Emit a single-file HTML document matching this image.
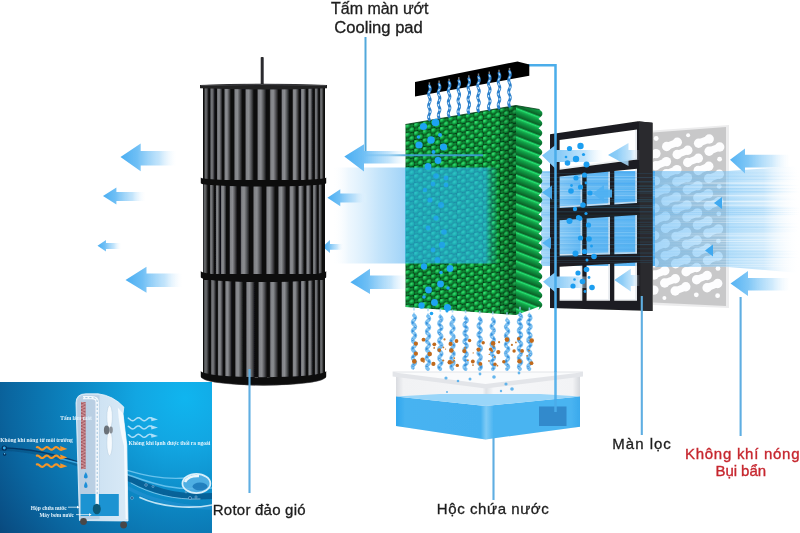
<!DOCTYPE html>
<html lang="vi"><head><meta charset="utf-8"><title>Cooling pad</title>
<style>
html,body{margin:0;padding:0;background:#fff;}
body{width:800px;height:533px;overflow:hidden;position:relative;font-family:"Liberation Sans",Arial,sans-serif;}
svg{position:absolute;left:0;top:0;display:block}
</style></head><body>
<svg width="800" height="533" viewBox="0 0 800 533">
<defs>

<linearGradient id="gArrowL" x1="0" x2="1" y1="0" y2="0">
  <stop offset="0" stop-color="#3fa9f0"/><stop offset="0.35" stop-color="#6fc0f5"/>
  <stop offset="0.75" stop-color="#bfe2fb" stop-opacity="0.8"/><stop offset="1" stop-color="#ffffff" stop-opacity="0"/>
</linearGradient>
<linearGradient id="gShaft" x1="0" x2="1"><stop offset="0" stop-color="#333"/><stop offset="0.5" stop-color="#bbb"/><stop offset="1" stop-color="#222"/></linearGradient>
<linearGradient id="gBlade" x1="0" x2="1">
  <stop offset="0" stop-color="#222224"/><stop offset="0.14" stop-color="#808286"/>
  <stop offset="0.42" stop-color="#8b8d91"/><stop offset="0.72" stop-color="#505154"/><stop offset="1" stop-color="#121213"/>
</linearGradient>
<linearGradient id="gBodyShade" x1="0" x2="1">
  <stop offset="0" stop-color="#000" stop-opacity="0.3"/><stop offset="0.15" stop-color="#000" stop-opacity="0"/>
  <stop offset="0.85" stop-color="#000" stop-opacity="0"/><stop offset="1" stop-color="#000" stop-opacity="0.3"/>
</linearGradient>
<filter id="blur1" filterUnits="userSpaceOnUse" x="0" y="0" width="800" height="533"><feGaussianBlur stdDeviation="0.6"/></filter>
<filter id="blur05" filterUnits="userSpaceOnUse" x="0" y="0" width="800" height="533"><feGaussianBlur stdDeviation="0.4"/></filter>
<filter id="blur2" x="-10%" y="-10%" width="120%" height="120%"><feGaussianBlur stdDeviation="1.2"/></filter>
<clipPath id="cpMesh"><path d="M653.0,132.0 L726.0,126.5 L726.0,306.0 L653.0,302.5 Z"/></clipPath>
<linearGradient id="gFlowR" gradientUnits="userSpaceOnUse" x1="655" x2="800" y1="0" y2="0">
  <stop offset="0" stop-color="#5cb6f4" stop-opacity="0.55"/>
  <stop offset="0.25" stop-color="#66bbf5" stop-opacity="0.5"/>
  <stop offset="0.49" stop-color="#70c0f5" stop-opacity="0.46"/>
  <stop offset="0.51" stop-color="#86caf7" stop-opacity="0.62"/>
  <stop offset="0.75" stop-color="#a9d9f9" stop-opacity="0.55"/>
  <stop offset="1" stop-color="#ffffff" stop-opacity="0"/>
</linearGradient>
<linearGradient id="gFlowFade" x1="0" x2="0" y1="0" y2="1">
  <stop offset="0" stop-color="#fff" stop-opacity="0"/><stop offset="0.04" stop-color="#fff" stop-opacity="1"/>
  <stop offset="0.96" stop-color="#fff" stop-opacity="1"/><stop offset="1" stop-color="#fff" stop-opacity="0"/>
</linearGradient>
<linearGradient id="gStreakW" gradientUnits="userSpaceOnUse" x1="655" x2="800" y1="0" y2="0"><stop offset="0" stop-color="#fff" stop-opacity="0"/><stop offset="0.5" stop-color="#fff" stop-opacity="0.8"/><stop offset="1" stop-color="#fff" stop-opacity="0.9"/></linearGradient><linearGradient id="gStreakB" gradientUnits="userSpaceOnUse" x1="655" x2="800" y1="0" y2="0"><stop offset="0" stop-color="#4aacf1" stop-opacity="0.22"/><stop offset="0.5" stop-color="#4aacf1" stop-opacity="0.3"/><stop offset="0.7" stop-color="#4aacf1" stop-opacity="0.35"/><stop offset="1" stop-color="#4aacf1" stop-opacity="0"/></linearGradient><linearGradient id="ga5" gradientUnits="userSpaceOnUse" x1="730" x2="790" y1="0" y2="0">
  <stop offset="0" stop-color="#55b3f3"/><stop offset="0.3" stop-color="#80c7f6"/>
  <stop offset="0.7" stop-color="#bfe3fb" stop-opacity="0.75"/><stop offset="1" stop-color="#e8f5fe" stop-opacity="0"/>
</linearGradient><linearGradient id="ga6" gradientUnits="userSpaceOnUse" x1="730.5" x2="790" y1="0" y2="0">
  <stop offset="0" stop-color="#55b3f3"/><stop offset="0.3" stop-color="#80c7f6"/>
  <stop offset="0.7" stop-color="#bfe3fb" stop-opacity="0.75"/><stop offset="1" stop-color="#e8f5fe" stop-opacity="0"/>
</linearGradient>
<linearGradient id="gFlowM" gradientUnits="userSpaceOnUse" x1="517" x2="660" y1="0" y2="0">
  <stop offset="0" stop-color="#8fcdf7" stop-opacity="0.35"/>
  <stop offset="0.2" stop-color="#74c1f5" stop-opacity="0.7"/>
  <stop offset="0.45" stop-color="#58b4f3" stop-opacity="0.92"/>
  <stop offset="1" stop-color="#4eaff3" stop-opacity="0.96"/>
</linearGradient>
<linearGradient id="ga8" gradientUnits="userSpaceOnUse" x1="608" x2="640" y1="0" y2="0">
  <stop offset="0" stop-color="#7cc6f6"/><stop offset="0.3" stop-color="#8dcdf7"/>
  <stop offset="0.7" stop-color="#b5defa" stop-opacity="0.8"/><stop offset="1" stop-color="#e8f5fe" stop-opacity="0"/>
</linearGradient><linearGradient id="ga9" gradientUnits="userSpaceOnUse" x1="542" x2="604" y1="0" y2="0">
  <stop offset="0" stop-color="#7cc6f6"/><stop offset="0.3" stop-color="#8dcdf7"/>
  <stop offset="0.7" stop-color="#b5defa" stop-opacity="0.8"/><stop offset="1" stop-color="#e8f5fe" stop-opacity="0"/>
</linearGradient><linearGradient id="ga10" gradientUnits="userSpaceOnUse" x1="614.3" x2="640" y1="0" y2="0">
  <stop offset="0" stop-color="#7cc6f6"/><stop offset="0.3" stop-color="#8dcdf7"/>
  <stop offset="0.7" stop-color="#b5defa" stop-opacity="0.8"/><stop offset="1" stop-color="#e8f5fe" stop-opacity="0"/>
</linearGradient><linearGradient id="ga11" gradientUnits="userSpaceOnUse" x1="543" x2="592" y1="0" y2="0">
  <stop offset="0" stop-color="#7cc6f6"/><stop offset="0.3" stop-color="#8dcdf7"/>
  <stop offset="0.7" stop-color="#b5defa" stop-opacity="0.8"/><stop offset="1" stop-color="#e8f5fe" stop-opacity="0"/>
</linearGradient><clipPath id="cpFront"><path d="M405.5,124.5 L516.0,105.5 L516.0,315.0 L405.5,307.0 Z"/></clipPath>
<radialGradient id="gBump" cx="0.4" cy="0.35" r="0.7">
  <stop offset="0" stop-color="#44ec7e"/><stop offset="0.45" stop-color="#13b44a"/><stop offset="1" stop-color="#056122"/>
</radialGradient>
<pattern id="pBump" width="8.6" height="8.6" patternUnits="userSpaceOnUse" patternTransform="translate(405.5 124.5) skewY(-9.8)">
  <rect width="8.6" height="8.6" fill="#053f17"/>
  <ellipse cx="2.15" cy="2.15" rx="2.9" ry="2.6" fill="url(#gBump)"/>
  <ellipse cx="6.45" cy="6.45" rx="2.9" ry="2.6" fill="url(#gBump)"/>
  <ellipse cx="6.45" cy="2.15" rx="1.7" ry="1.5" fill="#0a8a35"/>
  <ellipse cx="2.15" cy="6.45" rx="1.7" ry="1.5" fill="#0a8a35"/>
</pattern>
<linearGradient id="gStripe" x1="0" x2="0" y1="0" y2="1">
  <stop offset="0" stop-color="#0a7a33"/><stop offset="0.14" stop-color="#27e373"/><stop offset="0.32" stop-color="#14aa4c"/><stop offset="0.65" stop-color="#0c8539"/><stop offset="1" stop-color="#065a25"/>
</linearGradient>
<pattern id="pStripe" width="30" height="9.55" patternUnits="userSpaceOnUse" patternTransform="translate(516 107) skewY(21)">
  <rect width="30" height="9.55" fill="url(#gStripe)"/>
</pattern>
<linearGradient id="gFrontShade" gradientUnits="userSpaceOnUse" x1="405" x2="516" y1="0" y2="0">
  <stop offset="0" stop-color="#000" stop-opacity="0.05"/><stop offset="0.8" stop-color="#000" stop-opacity="0"/><stop offset="1" stop-color="#000" stop-opacity="0.28"/>
</linearGradient>

<linearGradient id="gFlowL" gradientUnits="userSpaceOnUse" x1="332" x2="497" y1="0" y2="0">
  <stop offset="0" stop-color="#ffffff" stop-opacity="0"/>
  <stop offset="0.10" stop-color="#e2f2fd" stop-opacity="0.6"/>
  <stop offset="0.28" stop-color="#bbe0fa" stop-opacity="0.85"/>
  <stop offset="0.44" stop-color="#97cff7" stop-opacity="0.9"/>
  <stop offset="0.445" stop-color="#2ab8f2" stop-opacity="0.68"/>
  <stop offset="0.93" stop-color="#2ab8f2" stop-opacity="0.64"/>
  <stop offset="0.96" stop-color="#2ab8f2" stop-opacity="0.3"/>
  <stop offset="1" stop-color="#2ab8f2" stop-opacity="0.1"/>
</linearGradient>
<linearGradient id="gFlowL2" gradientUnits="userSpaceOnUse" x1="497" x2="541" y1="0" y2="0">
  <stop offset="0" stop-color="#18a9e6" stop-opacity="0.30"/>
  <stop offset="1" stop-color="#18a9e6" stop-opacity="0.12"/>
</linearGradient>
<linearGradient id="ga15" gradientUnits="userSpaceOnUse" x1="344.3" x2="408" y1="0" y2="0">
  <stop offset="0" stop-color="#4aaef2"/><stop offset="0.3" stop-color="#6fbff5"/>
  <stop offset="0.7" stop-color="#b0dcfa" stop-opacity="0.75"/><stop offset="1" stop-color="#e8f5fe" stop-opacity="0"/>
</linearGradient><linearGradient id="ga16" gradientUnits="userSpaceOnUse" x1="327.4" x2="367" y1="0" y2="0">
  <stop offset="0" stop-color="#4aaef2"/><stop offset="0.3" stop-color="#6fbff5"/>
  <stop offset="0.7" stop-color="#b0dcfa" stop-opacity="0.75"/><stop offset="1" stop-color="#e8f5fe" stop-opacity="0"/>
</linearGradient><linearGradient id="ga17" gradientUnits="userSpaceOnUse" x1="322.7" x2="343" y1="0" y2="0">
  <stop offset="0" stop-color="#4aaef2"/><stop offset="0.3" stop-color="#6fbff5"/>
  <stop offset="0.7" stop-color="#b0dcfa" stop-opacity="0.75"/><stop offset="1" stop-color="#e8f5fe" stop-opacity="0"/>
</linearGradient><linearGradient id="ga18" gradientUnits="userSpaceOnUse" x1="350.4" x2="408" y1="0" y2="0">
  <stop offset="0" stop-color="#4aaef2"/><stop offset="0.3" stop-color="#6fbff5"/>
  <stop offset="0.7" stop-color="#b0dcfa" stop-opacity="0.75"/><stop offset="1" stop-color="#e8f5fe" stop-opacity="0"/>
</linearGradient><linearGradient id="ga19" gradientUnits="userSpaceOnUse" x1="120.5" x2="176" y1="0" y2="0">
  <stop offset="0" stop-color="#4aaef2"/><stop offset="0.3" stop-color="#6fbff5"/>
  <stop offset="0.7" stop-color="#b0dcfa" stop-opacity="0.75"/><stop offset="1" stop-color="#e8f5fe" stop-opacity="0"/>
</linearGradient><linearGradient id="ga20" gradientUnits="userSpaceOnUse" x1="103" x2="145" y1="0" y2="0">
  <stop offset="0" stop-color="#4aaef2"/><stop offset="0.3" stop-color="#6fbff5"/>
  <stop offset="0.7" stop-color="#b0dcfa" stop-opacity="0.75"/><stop offset="1" stop-color="#e8f5fe" stop-opacity="0"/>
</linearGradient><linearGradient id="ga21" gradientUnits="userSpaceOnUse" x1="97.5" x2="121" y1="0" y2="0">
  <stop offset="0" stop-color="#4aaef2"/><stop offset="0.3" stop-color="#6fbff5"/>
  <stop offset="0.7" stop-color="#b0dcfa" stop-opacity="0.75"/><stop offset="1" stop-color="#e8f5fe" stop-opacity="0"/>
</linearGradient><linearGradient id="ga22" gradientUnits="userSpaceOnUse" x1="125.5" x2="182" y1="0" y2="0">
  <stop offset="0" stop-color="#4aaef2"/><stop offset="0.3" stop-color="#6fbff5"/>
  <stop offset="0.7" stop-color="#b0dcfa" stop-opacity="0.75"/><stop offset="1" stop-color="#e8f5fe" stop-opacity="0"/>
</linearGradient>
<linearGradient id="gGlass" gradientUnits="userSpaceOnUse" x1="396" x2="580" y1="0" y2="0">
  <stop offset="0" stop-color="#d9dbe0"/><stop offset="0.04" stop-color="#f1f2f4"/><stop offset="0.47" stop-color="#f4f5f7"/>
  <stop offset="0.49" stop-color="#dfe2e6"/><stop offset="0.53" stop-color="#f6f7f9"/><stop offset="0.96" stop-color="#f2f3f5"/><stop offset="1" stop-color="#d4d7dc"/>
</linearGradient>
<linearGradient id="gWaterF" gradientUnits="userSpaceOnUse" x1="396" x2="580" y1="0" y2="0">
  <stop offset="0" stop-color="#2fa6ee"/><stop offset="0.05" stop-color="#47b3f1"/><stop offset="0.46" stop-color="#45b1f0"/>
  <stop offset="0.49" stop-color="#7fcbf6"/><stop offset="0.53" stop-color="#4ab4f1"/><stop offset="0.95" stop-color="#4ab4f1"/><stop offset="1" stop-color="#3aa9ec"/>
</linearGradient>

<radialGradient id="gInset" gradientUnits="userSpaceOnUse" cx="185" cy="398" r="245">
  <stop offset="0" stop-color="#10b5ef"/><stop offset="0.2" stop-color="#12a6e2"/>
  <stop offset="0.45" stop-color="#0c86c2"/><stop offset="0.72" stop-color="#0a66a0"/><stop offset="0.9" stop-color="#094e84"/><stop offset="1" stop-color="#073f70"/>
</radialGradient>
<clipPath id="cpInset"><rect x="0" y="382" width="212" height="151"/></clipPath>
<linearGradient id="gUnit" gradientUnits="userSpaceOnUse" x1="80" x2="128" y1="0" y2="0">
  <stop offset="0" stop-color="#bfd8ec"/><stop offset="0.45" stop-color="#cfe3f3"/><stop offset="1" stop-color="#d9eaf7"/>
</linearGradient>

</defs>
<rect width="800" height="533" fill="#fff"/>
<g id="mesh" filter="url(#blur05)">
<path d="M653.0,130.5 L729.0,125.0 L729.0,308.0 L653.0,305.0 Z" fill="#ececed"/>
<path d="M653.0,132.5 L726.0,127.0 L726.0,306.0 L653.0,302.5 Z" fill="#c8c8c9"/>
<g stroke="#fdfdfe" stroke-linecap="butt" fill="#fdfdfe" clip-path="url(#cpMesh)">
<path d="M632.8,286.3L643.4,282.1" stroke-width="7.2" fill="none"/>
<circle cx="632.8" cy="286.3" r="4.7" stroke="none"/><circle cx="643.4" cy="282.1" r="4.7" stroke="none"/>
<path d="M643.3,294.3L653.9,290.1" stroke-width="7.2" fill="none"/>
<circle cx="643.3" cy="294.3" r="4.7" stroke="none"/><circle cx="653.9" cy="290.1" r="4.7" stroke="none"/>
<circle cx="664.4" cy="298.1" r="2.0" stroke="none"/>
<path d="M633.2,259.0L643.8,254.8" stroke-width="7.2" fill="none"/>
<circle cx="633.2" cy="259.0" r="4.7" stroke="none"/><circle cx="643.8" cy="254.8" r="4.7" stroke="none"/>
<path d="M643.7,267.0L654.3,262.8" stroke-width="7.2" fill="none"/>
<circle cx="643.7" cy="267.0" r="4.7" stroke="none"/><circle cx="654.3" cy="262.8" r="4.7" stroke="none"/>
<path d="M654.2,275.0L664.8,270.8" stroke-width="7.2" fill="none"/>
<circle cx="654.2" cy="275.0" r="4.7" stroke="none"/><circle cx="664.8" cy="270.8" r="4.7" stroke="none"/>
<path d="M664.7,283.0L675.3,278.8" stroke-width="7.2" fill="none"/>
<circle cx="664.7" cy="283.0" r="4.7" stroke="none"/><circle cx="675.3" cy="278.8" r="4.7" stroke="none"/>
<path d="M675.2,291.0L685.8,286.8" stroke-width="7.2" fill="none"/>
<circle cx="675.2" cy="291.0" r="4.7" stroke="none"/><circle cx="685.8" cy="286.8" r="4.7" stroke="none"/>
<circle cx="696.3" cy="294.8" r="2.4" stroke="none"/>
<path d="M633.6,231.7L644.2,227.5" stroke-width="7.2" fill="none"/>
<circle cx="633.6" cy="231.7" r="4.7" stroke="none"/><circle cx="644.2" cy="227.5" r="4.7" stroke="none"/>
<path d="M644.1,239.7L654.7,235.5" stroke-width="7.2" fill="none"/>
<circle cx="644.1" cy="239.7" r="4.7" stroke="none"/><circle cx="654.7" cy="235.5" r="4.7" stroke="none"/>
<path d="M654.6,247.7L665.2,243.5" stroke-width="7.2" fill="none"/>
<circle cx="654.6" cy="247.7" r="4.7" stroke="none"/><circle cx="665.2" cy="243.5" r="4.7" stroke="none"/>
<path d="M665.1,255.7L675.7,251.5" stroke-width="7.2" fill="none"/>
<circle cx="665.1" cy="255.7" r="4.7" stroke="none"/><circle cx="675.7" cy="251.5" r="4.7" stroke="none"/>
<path d="M675.6,263.7L686.2,259.5" stroke-width="7.2" fill="none"/>
<circle cx="675.6" cy="263.7" r="4.7" stroke="none"/><circle cx="686.2" cy="259.5" r="4.7" stroke="none"/>
<path d="M686.1,271.7L696.7,267.5" stroke-width="7.2" fill="none"/>
<circle cx="686.1" cy="271.7" r="4.7" stroke="none"/><circle cx="696.7" cy="267.5" r="4.7" stroke="none"/>
<path d="M696.6,279.7L707.2,275.5" stroke-width="7.2" fill="none"/>
<circle cx="696.6" cy="279.7" r="4.7" stroke="none"/><circle cx="707.2" cy="275.5" r="4.7" stroke="none"/>
<path d="M707.1,287.7L717.7,283.5" stroke-width="7.2" fill="none"/>
<circle cx="707.1" cy="287.7" r="4.7" stroke="none"/><circle cx="717.7" cy="283.5" r="4.7" stroke="none"/>
<circle cx="717.6" cy="295.7" r="2.4" stroke="none"/>
<path d="M634.0,204.4L644.6,200.2" stroke-width="7.2" fill="none"/>
<circle cx="634.0" cy="204.4" r="4.7" stroke="none"/><circle cx="644.6" cy="200.2" r="4.7" stroke="none"/>
<path d="M644.5,212.4L655.1,208.2" stroke-width="7.2" fill="none"/>
<circle cx="644.5" cy="212.4" r="4.7" stroke="none"/><circle cx="655.1" cy="208.2" r="4.7" stroke="none"/>
<path d="M655.0,220.4L665.6,216.2" stroke-width="7.2" fill="none"/>
<circle cx="655.0" cy="220.4" r="4.7" stroke="none"/><circle cx="665.6" cy="216.2" r="4.7" stroke="none"/>
<path d="M665.5,228.4L676.1,224.2" stroke-width="7.2" fill="none"/>
<circle cx="665.5" cy="228.4" r="4.7" stroke="none"/><circle cx="676.1" cy="224.2" r="4.7" stroke="none"/>
<path d="M676.0,236.4L686.6,232.2" stroke-width="7.2" fill="none"/>
<circle cx="676.0" cy="236.4" r="4.7" stroke="none"/><circle cx="686.6" cy="232.2" r="4.7" stroke="none"/>
<path d="M686.5,244.4L697.1,240.2" stroke-width="7.2" fill="none"/>
<circle cx="686.5" cy="244.4" r="4.7" stroke="none"/><circle cx="697.1" cy="240.2" r="4.7" stroke="none"/>
<path d="M697.0,252.4L707.6,248.2" stroke-width="7.2" fill="none"/>
<circle cx="697.0" cy="252.4" r="4.7" stroke="none"/><circle cx="707.6" cy="248.2" r="4.7" stroke="none"/>
<path d="M707.5,260.4L718.1,256.2" stroke-width="7.2" fill="none"/>
<circle cx="707.5" cy="260.4" r="4.7" stroke="none"/><circle cx="718.1" cy="256.2" r="4.7" stroke="none"/>
<circle cx="718.0" cy="268.4" r="2.4" stroke="none"/>
<path d="M634.4,177.1L645.0,172.9" stroke-width="7.2" fill="none"/>
<circle cx="634.4" cy="177.1" r="4.7" stroke="none"/><circle cx="645.0" cy="172.9" r="4.7" stroke="none"/>
<path d="M644.9,185.1L655.5,180.9" stroke-width="7.2" fill="none"/>
<circle cx="644.9" cy="185.1" r="4.7" stroke="none"/><circle cx="655.5" cy="180.9" r="4.7" stroke="none"/>
<path d="M655.4,193.1L666.0,188.9" stroke-width="7.2" fill="none"/>
<circle cx="655.4" cy="193.1" r="4.7" stroke="none"/><circle cx="666.0" cy="188.9" r="4.7" stroke="none"/>
<path d="M665.9,201.1L676.5,196.9" stroke-width="7.2" fill="none"/>
<circle cx="665.9" cy="201.1" r="4.7" stroke="none"/><circle cx="676.5" cy="196.9" r="4.7" stroke="none"/>
<path d="M676.4,209.1L687.0,204.9" stroke-width="7.2" fill="none"/>
<circle cx="676.4" cy="209.1" r="4.7" stroke="none"/><circle cx="687.0" cy="204.9" r="4.7" stroke="none"/>
<path d="M686.9,217.1L697.5,212.9" stroke-width="7.2" fill="none"/>
<circle cx="686.9" cy="217.1" r="4.7" stroke="none"/><circle cx="697.5" cy="212.9" r="4.7" stroke="none"/>
<path d="M697.4,225.1L708.0,220.9" stroke-width="7.2" fill="none"/>
<circle cx="697.4" cy="225.1" r="4.7" stroke="none"/><circle cx="708.0" cy="220.9" r="4.7" stroke="none"/>
<path d="M707.9,233.1L718.5,228.9" stroke-width="7.2" fill="none"/>
<circle cx="707.9" cy="233.1" r="4.7" stroke="none"/><circle cx="718.5" cy="228.9" r="4.7" stroke="none"/>
<circle cx="718.4" cy="241.1" r="2.4" stroke="none"/>
<path d="M634.8,149.8L645.4,145.6" stroke-width="7.2" fill="none"/>
<circle cx="634.8" cy="149.8" r="4.7" stroke="none"/><circle cx="645.4" cy="145.6" r="4.7" stroke="none"/>
<path d="M645.3,157.8L655.9,153.6" stroke-width="7.2" fill="none"/>
<circle cx="645.3" cy="157.8" r="4.7" stroke="none"/><circle cx="655.9" cy="153.6" r="4.7" stroke="none"/>
<path d="M655.8,165.8L666.4,161.6" stroke-width="7.2" fill="none"/>
<circle cx="655.8" cy="165.8" r="4.7" stroke="none"/><circle cx="666.4" cy="161.6" r="4.7" stroke="none"/>
<path d="M666.3,173.8L676.9,169.6" stroke-width="7.2" fill="none"/>
<circle cx="666.3" cy="173.8" r="4.7" stroke="none"/><circle cx="676.9" cy="169.6" r="4.7" stroke="none"/>
<path d="M676.8,181.8L687.4,177.6" stroke-width="7.2" fill="none"/>
<circle cx="676.8" cy="181.8" r="4.7" stroke="none"/><circle cx="687.4" cy="177.6" r="4.7" stroke="none"/>
<path d="M687.3,189.8L697.9,185.6" stroke-width="7.2" fill="none"/>
<circle cx="687.3" cy="189.8" r="4.7" stroke="none"/><circle cx="697.9" cy="185.6" r="4.7" stroke="none"/>
<path d="M697.8,197.8L708.4,193.6" stroke-width="7.2" fill="none"/>
<circle cx="697.8" cy="197.8" r="4.7" stroke="none"/><circle cx="708.4" cy="193.6" r="4.7" stroke="none"/>
<path d="M708.3,205.8L718.9,201.6" stroke-width="7.2" fill="none"/>
<circle cx="708.3" cy="205.8" r="4.7" stroke="none"/><circle cx="718.9" cy="201.6" r="4.7" stroke="none"/>
<circle cx="718.8" cy="213.8" r="2.4" stroke="none"/>
<circle cx="656.2" cy="138.5" r="2.4" stroke="none"/>
<path d="M666.7,146.5L677.3,142.3" stroke-width="7.2" fill="none"/>
<circle cx="666.7" cy="146.5" r="4.7" stroke="none"/><circle cx="677.3" cy="142.3" r="4.7" stroke="none"/>
<path d="M677.2,154.5L687.8,150.3" stroke-width="7.2" fill="none"/>
<circle cx="677.2" cy="154.5" r="4.7" stroke="none"/><circle cx="687.8" cy="150.3" r="4.7" stroke="none"/>
<path d="M687.7,162.5L698.3,158.3" stroke-width="7.2" fill="none"/>
<circle cx="687.7" cy="162.5" r="4.7" stroke="none"/><circle cx="698.3" cy="158.3" r="4.7" stroke="none"/>
<path d="M698.2,170.5L708.8,166.3" stroke-width="7.2" fill="none"/>
<circle cx="698.2" cy="170.5" r="4.7" stroke="none"/><circle cx="708.8" cy="166.3" r="4.7" stroke="none"/>
<path d="M708.7,178.5L719.3,174.3" stroke-width="7.2" fill="none"/>
<circle cx="708.7" cy="178.5" r="4.7" stroke="none"/><circle cx="719.3" cy="174.3" r="4.7" stroke="none"/>
<circle cx="719.2" cy="186.5" r="2.4" stroke="none"/>
<circle cx="688.1" cy="135.2" r="2.0" stroke="none"/>
<path d="M698.6,143.2L709.2,139.0" stroke-width="7.2" fill="none"/>
<circle cx="698.6" cy="143.2" r="4.7" stroke="none"/><circle cx="709.2" cy="139.0" r="4.7" stroke="none"/>
<path d="M709.1,151.2L719.7,147.0" stroke-width="7.2" fill="none"/>
<circle cx="709.1" cy="151.2" r="4.7" stroke="none"/><circle cx="719.7" cy="147.0" r="4.7" stroke="none"/>
<circle cx="719.6" cy="159.2" r="2.4" stroke="none"/>
</g>
</g>
<g id="flowR">
<path d="M655,171 L728,171 L800,166 L800,273 L728,267 L655,267 Z" fill="url(#gFlowR)"/>
<rect x="655" y="172.5" width="145" height="0.9" fill="url(#gStreakB)" opacity="0.31"/>
<rect x="655" y="175.8" width="145" height="0.7" fill="url(#gStreakB)" opacity="0.66"/>
<rect x="655" y="178.9" width="145" height="1.1" fill="url(#gStreakB)" opacity="0.34"/>
<rect x="655" y="182.4" width="145" height="1.4" fill="url(#gStreakW)" opacity="0.59"/>
<rect x="655" y="185.0" width="145" height="0.9" fill="url(#gStreakB)" opacity="0.49"/>
<rect x="655" y="186.7" width="145" height="0.7" fill="url(#gStreakW)" opacity="0.63"/>
<rect x="655" y="188.2" width="145" height="1.1" fill="url(#gStreakB)" opacity="0.62"/>
<rect x="655" y="191.1" width="145" height="1.4" fill="url(#gStreakB)" opacity="0.66"/>
<rect x="655" y="194.9" width="145" height="1.4" fill="url(#gStreakW)" opacity="0.57"/>
<rect x="655" y="198.7" width="145" height="0.9" fill="url(#gStreakB)" opacity="0.29"/>
<rect x="655" y="200.8" width="145" height="1.4" fill="url(#gStreakW)" opacity="0.64"/>
<rect x="655" y="204.6" width="145" height="1.1" fill="url(#gStreakW)" opacity="0.58"/>
<rect x="655" y="207.5" width="145" height="1.4" fill="url(#gStreakB)" opacity="0.66"/>
<rect x="655" y="209.7" width="145" height="1.1" fill="url(#gStreakB)" opacity="0.55"/>
<rect x="655" y="212.0" width="145" height="1.1" fill="url(#gStreakB)" opacity="0.66"/>
<rect x="655" y="213.9" width="145" height="0.9" fill="url(#gStreakB)" opacity="0.69"/>
<rect x="655" y="216.6" width="145" height="1.1" fill="url(#gStreakW)" opacity="0.44"/>
<rect x="655" y="220.1" width="145" height="0.7" fill="url(#gStreakW)" opacity="0.28"/>
<rect x="655" y="222.0" width="145" height="0.7" fill="url(#gStreakW)" opacity="0.56"/>
<rect x="655" y="223.5" width="145" height="0.7" fill="url(#gStreakB)" opacity="0.59"/>
<rect x="655" y="226.6" width="145" height="1.1" fill="url(#gStreakB)" opacity="0.66"/>
<rect x="655" y="229.5" width="145" height="0.9" fill="url(#gStreakB)" opacity="0.39"/>
<rect x="655" y="231.2" width="145" height="0.7" fill="url(#gStreakB)" opacity="0.26"/>
<rect x="655" y="233.1" width="145" height="1.4" fill="url(#gStreakW)" opacity="0.36"/>
<rect x="655" y="235.3" width="145" height="1.1" fill="url(#gStreakW)" opacity="0.63"/>
<rect x="655" y="238.8" width="145" height="1.4" fill="url(#gStreakW)" opacity="0.46"/>
<rect x="655" y="241.0" width="145" height="1.1" fill="url(#gStreakW)" opacity="0.54"/>
<rect x="655" y="243.3" width="145" height="1.1" fill="url(#gStreakW)" opacity="0.35"/>
<rect x="655" y="246.2" width="145" height="1.1" fill="url(#gStreakW)" opacity="0.42"/>
<rect x="655" y="249.1" width="145" height="0.7" fill="url(#gStreakW)" opacity="0.49"/>
<rect x="655" y="251.0" width="145" height="0.7" fill="url(#gStreakB)" opacity="0.40"/>
<rect x="655" y="253.5" width="145" height="1.1" fill="url(#gStreakB)" opacity="0.38"/>
<rect x="655" y="257.0" width="145" height="0.7" fill="url(#gStreakB)" opacity="0.68"/>
<rect x="655" y="258.5" width="145" height="1.1" fill="url(#gStreakW)" opacity="0.43"/>
<rect x="655" y="261.4" width="145" height="0.9" fill="url(#gStreakW)" opacity="0.38"/>
<rect x="655" y="264.1" width="145" height="1.1" fill="url(#gStreakW)" opacity="0.40"/>
<rect x="655" y="266.0" width="145" height="0.9" fill="url(#gStreakW)" opacity="0.34"/>
</g>
<g id="arrowsR" filter="url(#blur05)">
<path d="M730,159.8 L745,148.5 L745,154.8 L790,154.8 L790,167.5 L745,167.5 L745,173.5 Z" fill="url(#ga5)" opacity="1"/>
<path d="M730.5,283.5 L748,271 L748,278 L790,278 L790,290.5 L748,290.5 L748,296 Z" fill="url(#ga6)" opacity="1"/>
<path d="M714,203 L722,197 L722,209 Z" fill="#3fa9f0"/>
<path d="M705,250.5 L713,244.5 L713,256.5 Z" fill="#3fa9f0"/>
</g>
<g id="flowM">
<rect x="541" y="171" width="114" height="95" fill="url(#gFlowM)"/>
<rect x="541" y="172.0" width="114" height="1" fill="#1d8fe6" opacity="0.21"/>
<rect x="541" y="176.0" width="114" height="1" fill="#ffffff" opacity="0.20"/>
<rect x="541" y="178.5" width="114" height="1.3" fill="#ffffff" opacity="0.20"/>
<rect x="541" y="181.3" width="114" height="0.8" fill="#ffffff" opacity="0.11"/>
<rect x="541" y="183.1" width="114" height="1.3" fill="#1d8fe6" opacity="0.22"/>
<rect x="541" y="185.9" width="114" height="1.3" fill="#ffffff" opacity="0.19"/>
<rect x="541" y="188.2" width="114" height="0.8" fill="#ffffff" opacity="0.13"/>
<rect x="541" y="190.0" width="114" height="1" fill="#ffffff" opacity="0.20"/>
<rect x="541" y="192.5" width="114" height="1.3" fill="#ffffff" opacity="0.14"/>
<rect x="541" y="194.8" width="114" height="1.3" fill="#ffffff" opacity="0.21"/>
<rect x="541" y="199.1" width="114" height="1.3" fill="#1d8fe6" opacity="0.21"/>
<rect x="541" y="202.6" width="114" height="1" fill="#1d8fe6" opacity="0.16"/>
<rect x="541" y="204.6" width="114" height="0.8" fill="#ffffff" opacity="0.10"/>
<rect x="541" y="206.4" width="114" height="1" fill="#ffffff" opacity="0.27"/>
<rect x="541" y="208.4" width="114" height="0.8" fill="#ffffff" opacity="0.26"/>
<rect x="541" y="212.2" width="114" height="1" fill="#1d8fe6" opacity="0.14"/>
<rect x="541" y="214.2" width="114" height="1.3" fill="#1d8fe6" opacity="0.20"/>
<rect x="541" y="217.7" width="114" height="1" fill="#ffffff" opacity="0.15"/>
<rect x="541" y="221.7" width="114" height="0.8" fill="#ffffff" opacity="0.22"/>
<rect x="541" y="223.5" width="114" height="0.8" fill="#ffffff" opacity="0.18"/>
<rect x="541" y="225.8" width="114" height="1" fill="#ffffff" opacity="0.28"/>
<rect x="541" y="228.3" width="114" height="1" fill="#1d8fe6" opacity="0.10"/>
<rect x="541" y="232.3" width="114" height="0.8" fill="#ffffff" opacity="0.25"/>
<rect x="541" y="235.3" width="114" height="0.8" fill="#ffffff" opacity="0.16"/>
<rect x="541" y="237.1" width="114" height="0.8" fill="#1d8fe6" opacity="0.11"/>
<rect x="541" y="240.1" width="114" height="0.8" fill="#1d8fe6" opacity="0.13"/>
<rect x="541" y="243.1" width="114" height="1" fill="#ffffff" opacity="0.10"/>
<rect x="541" y="245.6" width="114" height="0.8" fill="#1d8fe6" opacity="0.14"/>
<rect x="541" y="249.4" width="114" height="0.8" fill="#1d8fe6" opacity="0.15"/>
<rect x="541" y="251.7" width="114" height="1" fill="#ffffff" opacity="0.11"/>
<rect x="541" y="254.2" width="114" height="1.3" fill="#ffffff" opacity="0.12"/>
<rect x="541" y="257.0" width="114" height="1.3" fill="#1d8fe6" opacity="0.21"/>
<rect x="541" y="259.3" width="114" height="1" fill="#ffffff" opacity="0.10"/>
<rect x="541" y="262.5" width="114" height="0.8" fill="#1d8fe6" opacity="0.14"/>
</g>
<g id="frame" filter="url(#blur05)">
<path d="M635.2,129.8 L637.0,129.6 L637.0,159.5 L635.2,159.7 Z" fill="#dfe3e8" opacity="0.75"/>
<path d="M559.6,168.0 L637.0,157.7 L637.0,159.5 L559.6,169.8 Z" fill="#e6e9ed" opacity="0.75"/>
<path d="M580.5,174.3 L582.3,174.2 L582.3,206.5 L580.5,206.6 Z" fill="#dfe3e8" opacity="0.75"/>
<path d="M559.6,206.2 L582.3,204.7 L582.3,206.5 L559.6,208.0 Z" fill="#e6e9ed" opacity="0.75"/>
<path d="M608.2,171.6 L610,171.5 L610,204.7 L608.2,204.9 Z" fill="#dfe3e8" opacity="0.75"/>
<path d="M586.6,204.5 L610,202.9 L610,204.7 L586.6,206.3 Z" fill="#e6e9ed" opacity="0.75"/>
<path d="M635.2,169.0 L637,168.8 L637,203.0 L635.2,203.1 Z" fill="#dfe3e8" opacity="0.75"/>
<path d="M614.3,202.7 L637,201.2 L637,203.0 L614.3,204.5 Z" fill="#e6e9ed" opacity="0.75"/>
<path d="M580.5,218.9 L582.3,218.7 L582.3,255.2 L580.5,255.2 Z" fill="#dfe3e8" opacity="0.75"/>
<path d="M559.6,254.0 L582.3,253.4 L582.3,255.2 L559.6,255.8 Z" fill="#e6e9ed" opacity="0.75"/>
<path d="M608.2,217.0 L610,216.8 L610,254.4 L608.2,254.5 Z" fill="#dfe3e8" opacity="0.75"/>
<path d="M586.6,253.3 L610,252.6 L610,254.4 L586.6,255.1 Z" fill="#e6e9ed" opacity="0.75"/>
<path d="M635.2,215.1 L637,215.0 L637,253.7 L635.2,253.7 Z" fill="#dfe3e8" opacity="0.75"/>
<path d="M614.3,252.5 L637,251.9 L637,253.7 L614.3,254.3 Z" fill="#e6e9ed" opacity="0.75"/>
<path d="M580.5,265.6 L582.3,265.5 L582.3,300.8 L580.5,300.8 Z" fill="#dfe3e8" opacity="0.75"/>
<path d="M559.6,299.0 L582.3,299.0 L582.3,300.8 L559.6,300.8 Z" fill="#e6e9ed" opacity="0.75"/>
<path d="M608.2,264.1 L610,264.0 L610,300.8 L608.2,300.8 Z" fill="#dfe3e8" opacity="0.75"/>
<path d="M586.6,299.0 L610,299.0 L610,300.8 L586.6,300.8 Z" fill="#e6e9ed" opacity="0.75"/>
<path d="M635.2,262.7 L637,262.6 L637,300.8 L635.2,300.8 Z" fill="#dfe3e8" opacity="0.75"/>
<path d="M614.3,299.0 L637,299.0 L637,300.8 L614.3,300.8 Z" fill="#e6e9ed" opacity="0.75"/>
<path d="M550,134.3 L638,121.3 L652.5,122.8 L652.5,311 L550,308 Z M559.6,140.0 L559.6,169.8 L637.0,159.5 L637.0,129.6 Z M559.6,176.4 L559.6,208.0 L582.3,206.5 L582.3,174.2 Z M586.6,173.7 L586.6,206.3 L610,204.7 L610,171.5 Z M614.3,171.0 L614.3,204.5 L637,203.0 L637,168.8 Z M559.6,220.3 L559.6,255.8 L582.3,255.2 L582.3,218.7 Z M586.6,218.5 L586.6,255.1 L610,254.4 L610,216.8 Z M614.3,216.6 L614.3,254.3 L637,253.7 L637,215.0 Z M559.6,266.7 L559.6,300.8 L582.3,300.8 L582.3,265.5 Z M586.6,265.3 L586.6,300.8 L610,300.8 L610,264.0 Z M614.3,263.8 L614.3,300.8 L637,300.8 L637,262.6 Z" fill="#1d1e20" fill-rule="evenodd"/>
<path d="M639,121.4 L652.5,122.8 L652.5,311 L640.5,310.6 Z" fill="#2a2b2e"/>
<rect x="550" y="173.0" width="102.5" height="0.9" fill="#3d9be0" opacity="0.14"/>
<rect x="550" y="177.2" width="102.5" height="0.9" fill="#3d9be0" opacity="0.24"/>
<rect x="550" y="181.4" width="102.5" height="0.9" fill="#3d9be0" opacity="0.29"/>
<rect x="550" y="185.6" width="102.5" height="0.9" fill="#3d9be0" opacity="0.28"/>
<rect x="550" y="188.2" width="102.5" height="0.9" fill="#3d9be0" opacity="0.21"/>
<rect x="550" y="190.8" width="102.5" height="0.9" fill="#3d9be0" opacity="0.27"/>
<rect x="550" y="192.6" width="102.5" height="0.9" fill="#3d9be0" opacity="0.18"/>
<rect x="550" y="196.8" width="102.5" height="0.9" fill="#3d9be0" opacity="0.12"/>
<rect x="550" y="199.4" width="102.5" height="0.9" fill="#3d9be0" opacity="0.30"/>
<rect x="550" y="201.2" width="102.5" height="0.9" fill="#3d9be0" opacity="0.20"/>
<rect x="550" y="205.4" width="102.5" height="0.9" fill="#3d9be0" opacity="0.24"/>
<rect x="550" y="207.2" width="102.5" height="0.9" fill="#3d9be0" opacity="0.31"/>
<rect x="550" y="211.4" width="102.5" height="0.9" fill="#3d9be0" opacity="0.25"/>
<rect x="550" y="214.8" width="102.5" height="0.9" fill="#3d9be0" opacity="0.11"/>
<rect x="550" y="216.6" width="102.5" height="0.9" fill="#3d9be0" opacity="0.13"/>
<rect x="550" y="218.4" width="102.5" height="0.9" fill="#3d9be0" opacity="0.20"/>
<rect x="550" y="221.8" width="102.5" height="0.9" fill="#3d9be0" opacity="0.19"/>
<rect x="550" y="224.4" width="102.5" height="0.9" fill="#3d9be0" opacity="0.14"/>
<rect x="550" y="226.2" width="102.5" height="0.9" fill="#3d9be0" opacity="0.20"/>
<rect x="550" y="228.8" width="102.5" height="0.9" fill="#3d9be0" opacity="0.12"/>
<rect x="550" y="231.4" width="102.5" height="0.9" fill="#3d9be0" opacity="0.15"/>
<rect x="550" y="233.2" width="102.5" height="0.9" fill="#3d9be0" opacity="0.13"/>
<rect x="550" y="237.4" width="102.5" height="0.9" fill="#3d9be0" opacity="0.22"/>
<rect x="550" y="241.6" width="102.5" height="0.9" fill="#3d9be0" opacity="0.14"/>
<rect x="550" y="244.2" width="102.5" height="0.9" fill="#3d9be0" opacity="0.30"/>
<rect x="550" y="248.4" width="102.5" height="0.9" fill="#3d9be0" opacity="0.16"/>
<rect x="550" y="252.6" width="102.5" height="0.9" fill="#3d9be0" opacity="0.21"/>
<rect x="550" y="256.0" width="102.5" height="0.9" fill="#3d9be0" opacity="0.32"/>
<rect x="550" y="260.2" width="102.5" height="0.9" fill="#3d9be0" opacity="0.16"/>
<rect x="550" y="262.0" width="102.5" height="0.9" fill="#3d9be0" opacity="0.13"/>
</g>
<g id="arrowsF" filter="url(#blur05)">
<path d="M608,155 L628.5,143 L628.5,150 L640,150 L640,160 L628.5,160 L628.5,166 Z" fill="url(#ga8)" opacity="1"/>
<path d="M542,155.4 L555.5,145 L555.5,150 L604,150 L604,162 L555.5,162 L555.5,168.8 Z" fill="url(#ga9)" opacity="1"/>
<path d="M614.3,280 L630.8,268.8 L630.8,275 L640,275 L640,286 L630.8,286 L630.8,291.5 Z" fill="url(#ga10)" opacity="1"/>
<path d="M543,281.8 L555.5,272 L555.5,276.5 L592,276.5 L592,288 L555.5,288 L555.5,292.5 Z" fill="url(#ga11)" opacity="1"/>
<path d="M592.6,193.6 L604,185 L604,189.5 L612,189.5 L612,197.5 L604,197.5 L604,202 Z" fill="#4eb0f2" opacity="0.9"/>
<path d="M542,192.5 L552,185.5 L552,199.5 Z" fill="#4eb0f2" opacity="0.9"/>
<path d="M542,243 L551,237 L551,249 Z" fill="#4eb0f2" opacity="0.9"/>
</g>
<g id="fbub" fill="#1e9ef0" filter="url(#blur05)">
<circle cx="569.5" cy="148.5" r="2.6"/>
<circle cx="580.5" cy="146" r="3.2"/>
<circle cx="576" cy="159" r="3.2"/>
<circle cx="567.5" cy="163" r="2.8"/>
<circle cx="586.5" cy="164.5" r="3"/>
<circle cx="583.5" cy="154.5" r="1.6"/>
<circle cx="566" cy="157" r="1.3"/>
<circle cx="576" cy="178" r="2.6"/>
<circle cx="584.5" cy="175" r="2.6"/>
<circle cx="580.5" cy="187" r="2.6"/>
<circle cx="571" cy="191" r="2.8"/>
<circle cx="590" cy="193" r="2.6"/>
<circle cx="586" cy="183" r="1.4"/>
<circle cx="571.5" cy="185.5" r="1.4"/>
<circle cx="583" cy="205" r="2.8"/>
<circle cx="575" cy="209" r="2.2"/>
<circle cx="586" cy="213.5" r="1.6"/>
<circle cx="580" cy="218.5" r="2.4"/>
<circle cx="569.5" cy="221" r="3"/>
<circle cx="578.5" cy="217.5" r="2.6"/>
<circle cx="588.5" cy="225" r="2.6"/>
<circle cx="580.5" cy="238" r="2.6"/>
<circle cx="589" cy="239" r="2.8"/>
<circle cx="591.5" cy="246" r="1.5"/>
<circle cx="575.5" cy="253.5" r="3"/>
<circle cx="584.5" cy="251.5" r="2.6"/>
<circle cx="594" cy="256.5" r="2.8"/>
<circle cx="587" cy="260" r="1.5"/>
<circle cx="586.5" cy="269.5" r="2.8"/>
<circle cx="578" cy="273" r="2.6"/>
<circle cx="582.5" cy="281.5" r="2.8"/>
<circle cx="573" cy="286" r="2.6"/>
<circle cx="592" cy="287.5" r="2.8"/>
<circle cx="589" cy="277.5" r="1.4"/>
<circle cx="574.5" cy="279.5" r="1.3"/>
<circle cx="585" cy="291.5" r="1.4"/>
</g>
<path d="M528,65.3 H555.5 V412" stroke="#4badea" stroke-width="2.5" fill="none" filter="url(#blur05)"/>
<g id="pad">
<g filter="url(#blur05)">
<path d="M405.5,124.5 L516.0,105.5 L516.0,315.0 L405.5,307.0 Z" fill="url(#pBump)"/>
<path d="M405.5,124.5 L516.0,105.5 L516.0,315.0 L405.5,307.0 Z" fill="url(#gFrontShade)"/>
<path d="M516.0,105.5 L539.5,109.5 Q544.0,112.7 541.5,116.1 L538.5,119.0 Q544.0,122.2 541.5,125.6 L538.5,128.6 Q544.0,131.8 541.5,135.2 L538.5,138.2 Q544.0,141.3 541.5,144.8 L538.5,147.7 Q544.0,150.9 541.5,154.3 L538.5,157.3 Q544.0,160.5 541.5,163.9 L538.5,166.8 Q544.0,170.0 541.5,173.4 L538.5,176.4 Q544.0,179.6 541.5,183.0 L538.5,185.9 Q544.0,189.1 541.5,192.5 L538.5,195.5 Q544.0,198.7 541.5,202.1 L538.5,205.0 Q544.0,208.2 541.5,211.6 L538.5,214.6 Q544.0,217.8 541.5,221.2 L538.5,224.1 Q544.0,227.3 541.5,230.7 L538.5,233.7 Q544.0,236.9 541.5,240.3 L538.5,243.2 Q544.0,246.4 541.5,249.8 L538.5,252.8 Q544.0,256.0 541.5,259.4 L538.5,262.3 Q544.0,265.5 541.5,268.9 L538.5,271.9 Q544.0,275.1 541.5,278.5 L538.5,281.4 Q544.0,284.6 541.5,288.0 L538.5,291.0 Q544.0,294.2 541.5,297.6 L538.5,300.5 Q544.0,303.7 541.5,307.1 L538.5,310.1 L539.5,306.5 L516.0,315.0 Z" fill="url(#pStripe)"/>
</g>
<path d="M405.5,124.5 L516.0,105.5 L539.5,109.5" stroke="#043d16" stroke-width="1.2" fill="none" opacity="0.8"/>
</g>
<g id="bar" filter="url(#blur05)">
<path d="M415,82 L517.5,61.5 L529.3,64.5 L529.3,75.8 L415,96.5 Z" fill="#050505"/>
<rect x="428.7" y="82.4" width="1.4" height="4" fill="#9a9a9a" opacity="0.8"/>
<path d="M429.4,85.9 q1.7,2.83 0,5.65 q-1.7,2.83 0,5.65 q1.7,2.83 0,5.65 q-1.7,2.83 0,5.65 q1.7,2.83 0,5.65 q-1.7,2.83 0,5.65" stroke="#2b7fcb" stroke-width="2.8" fill="none" stroke-linecap="round"/>
<path d="M429.4,85.9 q1.7,2.83 0,5.65 q-1.7,2.83 0,5.65 q1.7,2.83 0,5.65 q-1.7,2.83 0,5.65 q1.7,2.83 0,5.65 q-1.7,2.83 0,5.65" stroke="#c9e8fc" stroke-width="1.2" fill="none" stroke-dasharray="2.2 3.0"/>
<rect x="438.4" y="80.6" width="1.4" height="4" fill="#9a9a9a" opacity="0.8"/>
<path d="M439.1,84.1 q1.7,2.83 0,5.66 q-1.7,2.83 0,5.66 q1.7,2.83 0,5.66 q-1.7,2.83 0,5.66 q1.7,2.83 0,5.66 q-1.7,2.83 0,5.66" stroke="#2b7fcb" stroke-width="2.8" fill="none" stroke-linecap="round"/>
<path d="M439.1,84.1 q1.7,2.83 0,5.66 q-1.7,2.83 0,5.66 q1.7,2.83 0,5.66 q-1.7,2.83 0,5.66 q1.7,2.83 0,5.66 q-1.7,2.83 0,5.66" stroke="#c9e8fc" stroke-width="1.2" fill="none" stroke-dasharray="2.2 3.0"/>
<rect x="448.4" y="78.8" width="1.4" height="4" fill="#9a9a9a" opacity="0.8"/>
<path d="M449.1,82.3 q1.7,2.84 0,5.68 q-1.7,2.84 0,5.68 q1.7,2.84 0,5.68 q-1.7,2.84 0,5.68 q1.7,2.84 0,5.68 q-1.7,2.84 0,5.68" stroke="#2b7fcb" stroke-width="2.8" fill="none" stroke-linecap="round"/>
<path d="M449.1,82.3 q1.7,2.84 0,5.68 q-1.7,2.84 0,5.68 q1.7,2.84 0,5.68 q-1.7,2.84 0,5.68 q1.7,2.84 0,5.68 q-1.7,2.84 0,5.68" stroke="#c9e8fc" stroke-width="1.2" fill="none" stroke-dasharray="2.2 3.0"/>
<rect x="458.1" y="77.1" width="1.4" height="4" fill="#9a9a9a" opacity="0.8"/>
<path d="M458.8,80.6 q1.7,2.84 0,5.69 q-1.7,2.84 0,5.69 q1.7,2.84 0,5.69 q-1.7,2.84 0,5.69 q1.7,2.84 0,5.69 q-1.7,2.84 0,5.69" stroke="#2b7fcb" stroke-width="2.8" fill="none" stroke-linecap="round"/>
<path d="M458.8,80.6 q1.7,2.84 0,5.69 q-1.7,2.84 0,5.69 q1.7,2.84 0,5.69 q-1.7,2.84 0,5.69 q1.7,2.84 0,5.69 q-1.7,2.84 0,5.69" stroke="#c9e8fc" stroke-width="1.2" fill="none" stroke-dasharray="2.2 3.0"/>
<rect x="468.1" y="75.3" width="1.4" height="4" fill="#9a9a9a" opacity="0.8"/>
<path d="M468.8,78.8 q1.7,2.85 0,5.71 q-1.7,2.85 0,5.71 q1.7,2.85 0,5.71 q-1.7,2.85 0,5.71 q1.7,2.85 0,5.71 q-1.7,2.85 0,5.71" stroke="#2b7fcb" stroke-width="2.8" fill="none" stroke-linecap="round"/>
<path d="M468.8,78.8 q1.7,2.85 0,5.71 q-1.7,2.85 0,5.71 q1.7,2.85 0,5.71 q-1.7,2.85 0,5.71 q1.7,2.85 0,5.71 q-1.7,2.85 0,5.71" stroke="#c9e8fc" stroke-width="1.2" fill="none" stroke-dasharray="2.2 3.0"/>
<rect x="477.8" y="73.5" width="1.4" height="4" fill="#9a9a9a" opacity="0.8"/>
<path d="M478.5,77.0 q1.7,2.86 0,5.72 q-1.7,2.86 0,5.72 q1.7,2.86 0,5.72 q-1.7,2.86 0,5.72 q1.7,2.86 0,5.72 q-1.7,2.86 0,5.72" stroke="#2b7fcb" stroke-width="2.8" fill="none" stroke-linecap="round"/>
<path d="M478.5,77.0 q1.7,2.86 0,5.72 q-1.7,2.86 0,5.72 q1.7,2.86 0,5.72 q-1.7,2.86 0,5.72 q1.7,2.86 0,5.72 q-1.7,2.86 0,5.72" stroke="#c9e8fc" stroke-width="1.2" fill="none" stroke-dasharray="2.2 3.0"/>
<rect x="488.6" y="71.6" width="1.4" height="4" fill="#9a9a9a" opacity="0.8"/>
<path d="M489.3,75.1 q1.7,2.88 0,5.76 q-1.7,2.88 0,5.76 q1.7,2.88 0,5.76 q-1.7,2.88 0,5.76 q1.7,2.88 0,5.76 q-1.7,2.88 0,5.76" stroke="#2b7fcb" stroke-width="2.8" fill="none" stroke-linecap="round"/>
<path d="M489.3,75.1 q1.7,2.88 0,5.76 q-1.7,2.88 0,5.76 q1.7,2.88 0,5.76 q-1.7,2.88 0,5.76 q1.7,2.88 0,5.76 q-1.7,2.88 0,5.76" stroke="#c9e8fc" stroke-width="1.2" fill="none" stroke-dasharray="2.2 3.0"/>
<rect x="498.3" y="69.8" width="1.4" height="4" fill="#9a9a9a" opacity="0.8"/>
<path d="M499,73.3 q1.7,2.88 0,5.77 q-1.7,2.88 0,5.77 q1.7,2.88 0,5.77 q-1.7,2.88 0,5.77 q1.7,2.88 0,5.77 q-1.7,2.88 0,5.77" stroke="#2b7fcb" stroke-width="2.8" fill="none" stroke-linecap="round"/>
<path d="M499,73.3 q1.7,2.88 0,5.77 q-1.7,2.88 0,5.77 q1.7,2.88 0,5.77 q-1.7,2.88 0,5.77 q1.7,2.88 0,5.77 q-1.7,2.88 0,5.77" stroke="#c9e8fc" stroke-width="1.2" fill="none" stroke-dasharray="2.2 3.0"/>
<rect x="508.8" y="67.9" width="1.4" height="4" fill="#9a9a9a" opacity="0.8"/>
<path d="M509.5,71.4 q1.7,2.90 0,5.80 q-1.7,2.90 0,5.80 q1.7,2.90 0,5.80 q-1.7,2.90 0,5.80 q1.7,2.90 0,5.80 q-1.7,2.90 0,5.80" stroke="#2b7fcb" stroke-width="2.8" fill="none" stroke-linecap="round"/>
<path d="M509.5,71.4 q1.7,2.90 0,5.80 q-1.7,2.90 0,5.80 q1.7,2.90 0,5.80 q-1.7,2.90 0,5.80 q1.7,2.90 0,5.80 q-1.7,2.90 0,5.80" stroke="#c9e8fc" stroke-width="1.2" fill="none" stroke-dasharray="2.2 3.0"/>
</g>
<g id="flowL">
<rect x="332" y="167.5" width="165" height="96" fill="url(#gFlowL)"/>
</g>
<g id="pdrops">
<g fill="#1ea3f2" filter="url(#blur05)">
<circle cx="423.5" cy="126.5" r="3.6" opacity="1"/>
<circle cx="435.5" cy="122.5" r="3.8" opacity="1"/>
<circle cx="431" cy="140" r="3.8" opacity="1"/>
<circle cx="419" cy="145" r="3.6" opacity="1"/>
<circle cx="443.5" cy="147" r="3.6" opacity="1"/>
<circle cx="440" cy="135" r="2" opacity="1"/>
<circle cx="418.5" cy="137" r="1.8" opacity="1"/>
<circle cx="433.5" cy="152" r="2" opacity="1"/>
<circle cx="438" cy="160.5" r="3.4" opacity="1"/>
<circle cx="428" cy="166.5" r="3.4" opacity="1"/>
<circle cx="433" cy="184" r="2.4" opacity="0.78"/>
<circle cx="425" cy="190" r="2.2" opacity="0.78"/>
<circle cx="446" cy="185" r="2.4" opacity="0.78"/>
<circle cx="436" cy="176" r="2.8" opacity="0.78"/>
<circle cx="446" cy="178" r="2.4" opacity="0.78"/>
<circle cx="430" cy="200" r="2.6" opacity="0.78"/>
<circle cx="441" cy="205" r="3" opacity="0.78"/>
<circle cx="436" cy="218" r="2.6" opacity="0.78"/>
<circle cx="428" cy="228" r="2.4" opacity="0.78"/>
<circle cx="444" cy="232" r="2.8" opacity="0.78"/>
<circle cx="442" cy="245" r="3.2" opacity="0.78"/>
<circle cx="433" cy="250" r="2.4" opacity="0.78"/>
<circle cx="437.5" cy="260" r="3" opacity="0.78"/>
<circle cx="424" cy="266.5" r="3.2" opacity="1"/>
<circle cx="450" cy="268.5" r="3.4" opacity="1"/>
<circle cx="441" cy="272.5" r="1.8" opacity="1"/>
<circle cx="440.5" cy="284" r="3.4" opacity="1"/>
<circle cx="428.5" cy="290" r="3.4" opacity="1"/>
<circle cx="448" cy="288" r="1.8" opacity="1"/>
<circle cx="434.5" cy="302.5" r="3.4" opacity="1"/>
<circle cx="421.5" cy="305.5" r="3.2" opacity="1"/>
<circle cx="447.5" cy="307.5" r="3.6" opacity="1"/>
<circle cx="424" cy="297" r="1.8" opacity="1"/>
<circle cx="431.5" cy="313.5" r="1.8" opacity="1"/>
<circle cx="447" cy="311" r="1.5" opacity="1"/>
</g>
</g>
<path d="M365.5,37 V155.3 H483" stroke="#3f9fd8" stroke-width="2" fill="none" opacity="0.9" filter="url(#blur05)"/>
<g id="arrowsM" filter="url(#blur05)">
<path d="M344.3,156.5 L364,144.3 L364,151 L408,151 L408,163.5 L364,163.5 L364,171.4 Z" fill="url(#ga15)" opacity="1"/>
<path d="M327.4,197.8 L340.3,189.3 L340.3,193.5 L367,193.5 L367,202.5 L340.3,202.5 L340.3,206.2 Z" fill="url(#ga16)" opacity="1"/>
<path d="M322.7,246.8 L330,240 L330,244 L343,244 L343,249.8 L330,249.8 L330,253 Z" fill="url(#ga17)" opacity="1"/>
<path d="M350.4,282.3 L370,268.7 L370,275.5 L408,275.5 L408,289 L370,289 L370,294 Z" fill="url(#ga18)" opacity="1"/>
</g>
<g id="rotor" filter="url(#blur05)">
<rect x="260.7" y="57" width="3" height="28" rx="0.8" fill="#2b2b2d"/>
<rect x="203" y="87" width="122" height="290" fill="#0d0d0e"/>
<rect x="204.2" y="88" width="4.5" height="92" fill="url(#gBlade)"/>
<rect x="210.1" y="88" width="4.8" height="92" fill="url(#gBlade)"/>
<rect x="216.8" y="88" width="5.5" height="92" fill="url(#gBlade)"/>
<rect x="224.1" y="88" width="6.8" height="92" fill="url(#gBlade)"/>
<rect x="234.0" y="88" width="8.1" height="92" fill="url(#gBlade)"/>
<rect x="245.1" y="88" width="8.7" height="92" fill="url(#gBlade)"/>
<rect x="257.1" y="88" width="9.1" height="92" fill="url(#gBlade)"/>
<rect x="269.6" y="88" width="8.7" height="92" fill="url(#gBlade)"/>
<rect x="281.2" y="88" width="8.1" height="92" fill="url(#gBlade)"/>
<rect x="292.3" y="88" width="6.8" height="92" fill="url(#gBlade)"/>
<rect x="300.8" y="88" width="5.5" height="92" fill="url(#gBlade)"/>
<rect x="308.1" y="88" width="4.8" height="92" fill="url(#gBlade)"/>
<rect x="314.5" y="88" width="4.2" height="92" fill="url(#gBlade)"/>
<rect x="320.0" y="88" width="3.9" height="92" fill="url(#gBlade)"/>
<rect x="203.2" y="184" width="4.7" height="90" fill="url(#gBlade)"/>
<rect x="209.7" y="184" width="4.6" height="90" fill="url(#gBlade)"/>
<rect x="215.7" y="184" width="4.3" height="90" fill="url(#gBlade)"/>
<rect x="220.8" y="184" width="5.7" height="90" fill="url(#gBlade)"/>
<rect x="229.3" y="184" width="7.8" height="90" fill="url(#gBlade)"/>
<rect x="240.4" y="184" width="9.1" height="90" fill="url(#gBlade)"/>
<rect x="253.0" y="184" width="9.4" height="90" fill="url(#gBlade)"/>
<rect x="265.9" y="184" width="9.0" height="90" fill="url(#gBlade)"/>
<rect x="278.0" y="184" width="8.3" height="90" fill="url(#gBlade)"/>
<rect x="289.2" y="184" width="7.1" height="90" fill="url(#gBlade)"/>
<rect x="298.2" y="184" width="5.9" height="90" fill="url(#gBlade)"/>
<rect x="306.1" y="184" width="5.1" height="90" fill="url(#gBlade)"/>
<rect x="312.9" y="184" width="4.3" height="90" fill="url(#gBlade)"/>
<rect x="318.4" y="184" width="3.9" height="90" fill="url(#gBlade)"/>
<rect x="203.9" y="280" width="5.2" height="98" fill="url(#gBlade)"/>
<rect x="210.9" y="280" width="5.2" height="98" fill="url(#gBlade)"/>
<rect x="217.7" y="280" width="5.5" height="98" fill="url(#gBlade)"/>
<rect x="225.0" y="280" width="6.8" height="98" fill="url(#gBlade)"/>
<rect x="234.9" y="280" width="8.1" height="98" fill="url(#gBlade)"/>
<rect x="245.9" y="280" width="8.7" height="98" fill="url(#gBlade)"/>
<rect x="258.1" y="280" width="8.8" height="98" fill="url(#gBlade)"/>
<rect x="269.7" y="280" width="8.4" height="98" fill="url(#gBlade)"/>
<rect x="281.2" y="280" width="8.1" height="98" fill="url(#gBlade)"/>
<rect x="292.3" y="280" width="6.8" height="98" fill="url(#gBlade)"/>
<rect x="300.8" y="280" width="5.5" height="98" fill="url(#gBlade)"/>
<rect x="308.1" y="280" width="4.8" height="98" fill="url(#gBlade)"/>
<rect x="314.5" y="280" width="4.2" height="98" fill="url(#gBlade)"/>
<rect x="320.0" y="280" width="3.9" height="98" fill="url(#gBlade)"/>
<rect x="203" y="87" width="122" height="290" fill="url(#gBodyShade)"/>
<path d="M200,85 Q263,82.6 327,85 L327,88.2 Q263,90.6 200,88.2 Z" fill="#202022"/>
<path d="M201,85.6 Q263,83.4 326,85.6" fill="none" stroke="#4a4a4d" stroke-width="0.9"/>
<path d="M200.8,177.4 A62.7,3.4 0 0 0 326.2,177.4 L326.2,183.3 A62.7,3.2 0 0 1 200.8,183.3 Z" fill="#0a0a0b"/>
<path d="M200.8,271 A62.7,5.2 0 0 0 326.2,271 L326.2,277.3 A62.7,4.8 0 0 1 200.8,277.3 Z" fill="#0a0a0b"/>
<path d="M200.8,370.8 A62.7,6.5 0 0 0 326.2,370.8 L326.2,376.5 A62.7,9 0 0 1 200.8,376.5 Z" fill="#0b0b0c"/>
<path d="M203,378.5 A61,7.5 0 0 0 324,378.5" fill="none" stroke="#3a3a3c" stroke-width="0.8" opacity="0.7"/>
</g>
<g id="arrowsL" filter="url(#blur05)">
<path d="M120.5,157 L140.7,143.6 L140.7,151 L176,151 L176,165.5 L140.7,165.5 L140.7,171.3 Z" fill="url(#ga19)" opacity="1"/>
<path d="M103,196 L116.4,187.5 L116.4,192 L145,192 L145,201 L116.4,201 L116.4,204.5 Z" fill="url(#ga20)" opacity="1"/>
<path d="M97.5,245.7 L106,240 L106,243 L121,243 L121,249 L106,249 L106,251.6 Z" fill="url(#ga21)" opacity="1"/>
<path d="M125.5,280 L146.5,266.8 L146.5,273.5 L182,273.5 L182,287 L146.5,287 L146.5,292.7 Z" fill="url(#ga22)" opacity="1"/>
</g>
<g id="drips" filter="url(#blur05)">
<path d="M414,307.5 V316.5" stroke="#9fd2f6" stroke-width="1.6" stroke-dasharray="3 2" fill="none" opacity="0.8"/>
<path d="M414,315.5 q2.7,2.23 0,4.46 q-2.7,2.23 0,4.46 q2.7,2.23 0,4.46 q-2.7,2.23 0,4.46 q2.7,2.23 0,4.46 q-2.7,2.23 0,4.46 q2.7,2.23 0,4.46 q-2.7,2.23 0,4.46 q2.7,2.23 0,4.46 q-2.7,2.23 0,4.46 q2.7,2.23 0,4.46 q-2.7,2.23 0,4.46" stroke="#5cb1ee" stroke-width="3.8" fill="none" stroke-linecap="round" stroke-dasharray="6.5 1.8" stroke-dashoffset="3.7" opacity="0.8"/>
<path d="M414,315.5 q2.7,2.23 0,4.46 q-2.7,2.23 0,4.46 q2.7,2.23 0,4.46 q-2.7,2.23 0,4.46 q2.7,2.23 0,4.46 q-2.7,2.23 0,4.46 q2.7,2.23 0,4.46 q-2.7,2.23 0,4.46 q2.7,2.23 0,4.46 q-2.7,2.23 0,4.46 q2.7,2.23 0,4.46 q-2.7,2.23 0,4.46" stroke="#2380d3" stroke-width="1.9" fill="none" stroke-dasharray="2.6 2.4" stroke-dashoffset="3.0" opacity="0.75"/>
<path d="M414,315.5 q2.7,2.23 0,4.46 q-2.7,2.23 0,4.46 q2.7,2.23 0,4.46 q-2.7,2.23 0,4.46 q2.7,2.23 0,4.46 q-2.7,2.23 0,4.46 q2.7,2.23 0,4.46 q-2.7,2.23 0,4.46 q2.7,2.23 0,4.46 q-2.7,2.23 0,4.46 q2.7,2.23 0,4.46 q-2.7,2.23 0,4.46" stroke="#e6f5fe" stroke-width="0.9" fill="none" stroke-dasharray="1.4 6.2" stroke-dashoffset="3.2" opacity="0.9"/>
<path d="M428,308.2 V317.2" stroke="#9fd2f6" stroke-width="1.6" stroke-dasharray="3 2" fill="none" opacity="0.8"/>
<path d="M428,316.2 q2.7,2.20 0,4.40 q-2.7,2.20 0,4.40 q2.7,2.20 0,4.40 q-2.7,2.20 0,4.40 q2.7,2.20 0,4.40 q-2.7,2.20 0,4.40 q2.7,2.20 0,4.40 q-2.7,2.20 0,4.40 q2.7,2.20 0,4.40 q-2.7,2.20 0,4.40 q2.7,2.20 0,4.40 q-2.7,2.20 0,4.40" stroke="#5cb1ee" stroke-width="3.8" fill="none" stroke-linecap="round" stroke-dasharray="6.5 1.8" stroke-dashoffset="5.7" opacity="0.8"/>
<path d="M428,316.2 q2.7,2.20 0,4.40 q-2.7,2.20 0,4.40 q2.7,2.20 0,4.40 q-2.7,2.20 0,4.40 q2.7,2.20 0,4.40 q-2.7,2.20 0,4.40 q2.7,2.20 0,4.40 q-2.7,2.20 0,4.40 q2.7,2.20 0,4.40 q-2.7,2.20 0,4.40 q2.7,2.20 0,4.40 q-2.7,2.20 0,4.40" stroke="#2380d3" stroke-width="1.9" fill="none" stroke-dasharray="2.6 2.4" stroke-dashoffset="3.0" opacity="0.75"/>
<path d="M428,316.2 q2.7,2.20 0,4.40 q-2.7,2.20 0,4.40 q2.7,2.20 0,4.40 q-2.7,2.20 0,4.40 q2.7,2.20 0,4.40 q-2.7,2.20 0,4.40 q2.7,2.20 0,4.40 q-2.7,2.20 0,4.40 q2.7,2.20 0,4.40 q-2.7,2.20 0,4.40 q2.7,2.20 0,4.40 q-2.7,2.20 0,4.40" stroke="#e6f5fe" stroke-width="0.9" fill="none" stroke-dasharray="1.4 6.2" stroke-dashoffset="3.7" opacity="0.9"/>
<path d="M440.3,308.8 V317.8" stroke="#9fd2f6" stroke-width="1.6" stroke-dasharray="3 2" fill="none" opacity="0.8"/>
<path d="M440.3,316.8 q2.7,2.17 0,4.35 q-2.7,2.17 0,4.35 q2.7,2.17 0,4.35 q-2.7,2.17 0,4.35 q2.7,2.17 0,4.35 q-2.7,2.17 0,4.35 q2.7,2.17 0,4.35 q-2.7,2.17 0,4.35 q2.7,2.17 0,4.35 q-2.7,2.17 0,4.35 q2.7,2.17 0,4.35 q-2.7,2.17 0,4.35" stroke="#5cb1ee" stroke-width="3.8" fill="none" stroke-linecap="round" stroke-dasharray="6.5 1.8" stroke-dashoffset="0.2" opacity="0.8"/>
<path d="M440.3,316.8 q2.7,2.17 0,4.35 q-2.7,2.17 0,4.35 q2.7,2.17 0,4.35 q-2.7,2.17 0,4.35 q2.7,2.17 0,4.35 q-2.7,2.17 0,4.35 q2.7,2.17 0,4.35 q-2.7,2.17 0,4.35 q2.7,2.17 0,4.35 q-2.7,2.17 0,4.35 q2.7,2.17 0,4.35 q-2.7,2.17 0,4.35" stroke="#2380d3" stroke-width="1.9" fill="none" stroke-dasharray="2.6 2.4" stroke-dashoffset="1.9" opacity="0.75"/>
<path d="M440.3,316.8 q2.7,2.17 0,4.35 q-2.7,2.17 0,4.35 q2.7,2.17 0,4.35 q-2.7,2.17 0,4.35 q2.7,2.17 0,4.35 q-2.7,2.17 0,4.35 q2.7,2.17 0,4.35 q-2.7,2.17 0,4.35 q2.7,2.17 0,4.35 q-2.7,2.17 0,4.35 q2.7,2.17 0,4.35 q-2.7,2.17 0,4.35" stroke="#e6f5fe" stroke-width="0.9" fill="none" stroke-dasharray="1.4 6.2" stroke-dashoffset="3.8" opacity="0.9"/>
<path d="M452.5,309.5 V318.5" stroke="#9fd2f6" stroke-width="1.6" stroke-dasharray="3 2" fill="none" opacity="0.8"/>
<path d="M452.5,317.5 q2.7,2.15 0,4.29 q-2.7,2.15 0,4.29 q2.7,2.15 0,4.29 q-2.7,2.15 0,4.29 q2.7,2.15 0,4.29 q-2.7,2.15 0,4.29 q2.7,2.15 0,4.29 q-2.7,2.15 0,4.29 q2.7,2.15 0,4.29 q-2.7,2.15 0,4.29 q2.7,2.15 0,4.29 q-2.7,2.15 0,4.29" stroke="#5cb1ee" stroke-width="3.8" fill="none" stroke-linecap="round" stroke-dasharray="6.5 1.8" stroke-dashoffset="3.9" opacity="0.8"/>
<path d="M452.5,317.5 q2.7,2.15 0,4.29 q-2.7,2.15 0,4.29 q2.7,2.15 0,4.29 q-2.7,2.15 0,4.29 q2.7,2.15 0,4.29 q-2.7,2.15 0,4.29 q2.7,2.15 0,4.29 q-2.7,2.15 0,4.29 q2.7,2.15 0,4.29 q-2.7,2.15 0,4.29 q2.7,2.15 0,4.29 q-2.7,2.15 0,4.29" stroke="#2380d3" stroke-width="1.9" fill="none" stroke-dasharray="2.6 2.4" stroke-dashoffset="3.6" opacity="0.75"/>
<path d="M452.5,317.5 q2.7,2.15 0,4.29 q-2.7,2.15 0,4.29 q2.7,2.15 0,4.29 q-2.7,2.15 0,4.29 q2.7,2.15 0,4.29 q-2.7,2.15 0,4.29 q2.7,2.15 0,4.29 q-2.7,2.15 0,4.29 q2.7,2.15 0,4.29 q-2.7,2.15 0,4.29 q2.7,2.15 0,4.29 q-2.7,2.15 0,4.29" stroke="#e6f5fe" stroke-width="0.9" fill="none" stroke-dasharray="1.4 6.2" stroke-dashoffset="0.5" opacity="0.9"/>
<path d="M465.6,310.2 V319.2" stroke="#9fd2f6" stroke-width="1.6" stroke-dasharray="3 2" fill="none" opacity="0.8"/>
<path d="M465.6,318.2 q2.7,2.12 0,4.24 q-2.7,2.12 0,4.24 q2.7,2.12 0,4.24 q-2.7,2.12 0,4.24 q2.7,2.12 0,4.24 q-2.7,2.12 0,4.24 q2.7,2.12 0,4.24 q-2.7,2.12 0,4.24 q2.7,2.12 0,4.24 q-2.7,2.12 0,4.24 q2.7,2.12 0,4.24 q-2.7,2.12 0,4.24" stroke="#5cb1ee" stroke-width="3.8" fill="none" stroke-linecap="round" stroke-dasharray="6.5 1.8" stroke-dashoffset="2.8" opacity="0.8"/>
<path d="M465.6,318.2 q2.7,2.12 0,4.24 q-2.7,2.12 0,4.24 q2.7,2.12 0,4.24 q-2.7,2.12 0,4.24 q2.7,2.12 0,4.24 q-2.7,2.12 0,4.24 q2.7,2.12 0,4.24 q-2.7,2.12 0,4.24 q2.7,2.12 0,4.24 q-2.7,2.12 0,4.24 q2.7,2.12 0,4.24 q-2.7,2.12 0,4.24" stroke="#2380d3" stroke-width="1.9" fill="none" stroke-dasharray="2.6 2.4" stroke-dashoffset="1.0" opacity="0.75"/>
<path d="M465.6,318.2 q2.7,2.12 0,4.24 q-2.7,2.12 0,4.24 q2.7,2.12 0,4.24 q-2.7,2.12 0,4.24 q2.7,2.12 0,4.24 q-2.7,2.12 0,4.24 q2.7,2.12 0,4.24 q-2.7,2.12 0,4.24 q2.7,2.12 0,4.24 q-2.7,2.12 0,4.24 q2.7,2.12 0,4.24 q-2.7,2.12 0,4.24" stroke="#e6f5fe" stroke-width="0.9" fill="none" stroke-dasharray="1.4 6.2" stroke-dashoffset="2.2" opacity="0.9"/>
<path d="M479.7,310.8 V319.8" stroke="#9fd2f6" stroke-width="1.6" stroke-dasharray="3 2" fill="none" opacity="0.8"/>
<path d="M479.7,318.8 q2.7,2.28 0,4.56 q-2.7,2.28 0,4.56 q2.7,2.28 0,4.56 q-2.7,2.28 0,4.56 q2.7,2.28 0,4.56 q-2.7,2.28 0,4.56 q2.7,2.28 0,4.56 q-2.7,2.28 0,4.56 q2.7,2.28 0,4.56 q-2.7,2.28 0,4.56 q2.7,2.28 0,4.56" stroke="#5cb1ee" stroke-width="3.8" fill="none" stroke-linecap="round" stroke-dasharray="6.5 1.8" stroke-dashoffset="3.4" opacity="0.8"/>
<path d="M479.7,318.8 q2.7,2.28 0,4.56 q-2.7,2.28 0,4.56 q2.7,2.28 0,4.56 q-2.7,2.28 0,4.56 q2.7,2.28 0,4.56 q-2.7,2.28 0,4.56 q2.7,2.28 0,4.56 q-2.7,2.28 0,4.56 q2.7,2.28 0,4.56 q-2.7,2.28 0,4.56 q2.7,2.28 0,4.56" stroke="#2380d3" stroke-width="1.9" fill="none" stroke-dasharray="2.6 2.4" stroke-dashoffset="0.1" opacity="0.75"/>
<path d="M479.7,318.8 q2.7,2.28 0,4.56 q-2.7,2.28 0,4.56 q2.7,2.28 0,4.56 q-2.7,2.28 0,4.56 q2.7,2.28 0,4.56 q-2.7,2.28 0,4.56 q2.7,2.28 0,4.56 q-2.7,2.28 0,4.56 q2.7,2.28 0,4.56 q-2.7,2.28 0,4.56 q2.7,2.28 0,4.56" stroke="#e6f5fe" stroke-width="0.9" fill="none" stroke-dasharray="1.4 6.2" stroke-dashoffset="0.9" opacity="0.9"/>
<path d="M492.8,311.5 V320.5" stroke="#9fd2f6" stroke-width="1.6" stroke-dasharray="3 2" fill="none" opacity="0.8"/>
<path d="M492.8,319.5 q2.7,2.25 0,4.50 q-2.7,2.25 0,4.50 q2.7,2.25 0,4.50 q-2.7,2.25 0,4.50 q2.7,2.25 0,4.50 q-2.7,2.25 0,4.50 q2.7,2.25 0,4.50 q-2.7,2.25 0,4.50 q2.7,2.25 0,4.50 q-2.7,2.25 0,4.50 q2.7,2.25 0,4.50" stroke="#5cb1ee" stroke-width="3.8" fill="none" stroke-linecap="round" stroke-dasharray="6.5 1.8" stroke-dashoffset="1.7" opacity="0.8"/>
<path d="M492.8,319.5 q2.7,2.25 0,4.50 q-2.7,2.25 0,4.50 q2.7,2.25 0,4.50 q-2.7,2.25 0,4.50 q2.7,2.25 0,4.50 q-2.7,2.25 0,4.50 q2.7,2.25 0,4.50 q-2.7,2.25 0,4.50 q2.7,2.25 0,4.50 q-2.7,2.25 0,4.50 q2.7,2.25 0,4.50" stroke="#2380d3" stroke-width="1.9" fill="none" stroke-dasharray="2.6 2.4" stroke-dashoffset="3.7" opacity="0.75"/>
<path d="M492.8,319.5 q2.7,2.25 0,4.50 q-2.7,2.25 0,4.50 q2.7,2.25 0,4.50 q-2.7,2.25 0,4.50 q2.7,2.25 0,4.50 q-2.7,2.25 0,4.50 q2.7,2.25 0,4.50 q-2.7,2.25 0,4.50 q2.7,2.25 0,4.50 q-2.7,2.25 0,4.50 q2.7,2.25 0,4.50" stroke="#e6f5fe" stroke-width="0.9" fill="none" stroke-dasharray="1.4 6.2" stroke-dashoffset="3.1" opacity="0.9"/>
<path d="M507,312.2 V321.2" stroke="#9fd2f6" stroke-width="1.6" stroke-dasharray="3 2" fill="none" opacity="0.8"/>
<path d="M507,320.2 q2.7,2.22 0,4.44 q-2.7,2.22 0,4.44 q2.7,2.22 0,4.44 q-2.7,2.22 0,4.44 q2.7,2.22 0,4.44 q-2.7,2.22 0,4.44 q2.7,2.22 0,4.44 q-2.7,2.22 0,4.44 q2.7,2.22 0,4.44 q-2.7,2.22 0,4.44 q2.7,2.22 0,4.44" stroke="#5cb1ee" stroke-width="3.8" fill="none" stroke-linecap="round" stroke-dasharray="6.5 1.8" stroke-dashoffset="1.0" opacity="0.8"/>
<path d="M507,320.2 q2.7,2.22 0,4.44 q-2.7,2.22 0,4.44 q2.7,2.22 0,4.44 q-2.7,2.22 0,4.44 q2.7,2.22 0,4.44 q-2.7,2.22 0,4.44 q2.7,2.22 0,4.44 q-2.7,2.22 0,4.44 q2.7,2.22 0,4.44 q-2.7,2.22 0,4.44 q2.7,2.22 0,4.44" stroke="#2380d3" stroke-width="1.9" fill="none" stroke-dasharray="2.6 2.4" stroke-dashoffset="3.2" opacity="0.75"/>
<path d="M507,320.2 q2.7,2.22 0,4.44 q-2.7,2.22 0,4.44 q2.7,2.22 0,4.44 q-2.7,2.22 0,4.44 q2.7,2.22 0,4.44 q-2.7,2.22 0,4.44 q2.7,2.22 0,4.44 q-2.7,2.22 0,4.44 q2.7,2.22 0,4.44 q-2.7,2.22 0,4.44 q2.7,2.22 0,4.44" stroke="#e6f5fe" stroke-width="0.9" fill="none" stroke-dasharray="1.4 6.2" stroke-dashoffset="0.6" opacity="0.9"/>
<path d="M520,306.8 V315.8" stroke="#9fd2f6" stroke-width="1.6" stroke-dasharray="3 2" fill="none" opacity="0.8"/>
<path d="M520,314.8 q2.7,2.26 0,4.51 q-2.7,2.26 0,4.51 q2.7,2.26 0,4.51 q-2.7,2.26 0,4.51 q2.7,2.26 0,4.51 q-2.7,2.26 0,4.51 q2.7,2.26 0,4.51 q-2.7,2.26 0,4.51 q2.7,2.26 0,4.51 q-2.7,2.26 0,4.51 q2.7,2.26 0,4.51 q-2.7,2.26 0,4.51" stroke="#5cb1ee" stroke-width="3.8" fill="none" stroke-linecap="round" stroke-dasharray="6.5 1.8" stroke-dashoffset="3.7" opacity="0.8"/>
<path d="M520,314.8 q2.7,2.26 0,4.51 q-2.7,2.26 0,4.51 q2.7,2.26 0,4.51 q-2.7,2.26 0,4.51 q2.7,2.26 0,4.51 q-2.7,2.26 0,4.51 q2.7,2.26 0,4.51 q-2.7,2.26 0,4.51 q2.7,2.26 0,4.51 q-2.7,2.26 0,4.51 q2.7,2.26 0,4.51 q-2.7,2.26 0,4.51" stroke="#2380d3" stroke-width="1.9" fill="none" stroke-dasharray="2.6 2.4" stroke-dashoffset="0.5" opacity="0.75"/>
<path d="M520,314.8 q2.7,2.26 0,4.51 q-2.7,2.26 0,4.51 q2.7,2.26 0,4.51 q-2.7,2.26 0,4.51 q2.7,2.26 0,4.51 q-2.7,2.26 0,4.51 q2.7,2.26 0,4.51 q-2.7,2.26 0,4.51 q2.7,2.26 0,4.51 q-2.7,2.26 0,4.51 q2.7,2.26 0,4.51 q-2.7,2.26 0,4.51" stroke="#e6f5fe" stroke-width="0.9" fill="none" stroke-dasharray="1.4 6.2" stroke-dashoffset="0.0" opacity="0.9"/>
<path d="M529.4,307.5 V316.5" stroke="#9fd2f6" stroke-width="1.6" stroke-dasharray="3 2" fill="none" opacity="0.8"/>
<path d="M529.4,315.5 q2.7,2.23 0,4.46 q-2.7,2.23 0,4.46 q2.7,2.23 0,4.46 q-2.7,2.23 0,4.46 q2.7,2.23 0,4.46 q-2.7,2.23 0,4.46 q2.7,2.23 0,4.46 q-2.7,2.23 0,4.46 q2.7,2.23 0,4.46 q-2.7,2.23 0,4.46 q2.7,2.23 0,4.46 q-2.7,2.23 0,4.46" stroke="#5cb1ee" stroke-width="3.8" fill="none" stroke-linecap="round" stroke-dasharray="6.5 1.8" stroke-dashoffset="5.2" opacity="0.8"/>
<path d="M529.4,315.5 q2.7,2.23 0,4.46 q-2.7,2.23 0,4.46 q2.7,2.23 0,4.46 q-2.7,2.23 0,4.46 q2.7,2.23 0,4.46 q-2.7,2.23 0,4.46 q2.7,2.23 0,4.46 q-2.7,2.23 0,4.46 q2.7,2.23 0,4.46 q-2.7,2.23 0,4.46 q2.7,2.23 0,4.46 q-2.7,2.23 0,4.46" stroke="#2380d3" stroke-width="1.9" fill="none" stroke-dasharray="2.6 2.4" stroke-dashoffset="0.8" opacity="0.75"/>
<path d="M529.4,315.5 q2.7,2.23 0,4.46 q-2.7,2.23 0,4.46 q2.7,2.23 0,4.46 q-2.7,2.23 0,4.46 q2.7,2.23 0,4.46 q-2.7,2.23 0,4.46 q2.7,2.23 0,4.46 q-2.7,2.23 0,4.46 q2.7,2.23 0,4.46 q-2.7,2.23 0,4.46 q2.7,2.23 0,4.46 q-2.7,2.23 0,4.46" stroke="#e6f5fe" stroke-width="0.9" fill="none" stroke-dasharray="1.4 6.2" stroke-dashoffset="0.9" opacity="0.9"/>
<circle cx="415.9" cy="343.7" r="2.1" fill="#c0691b"/>
<circle cx="423.5" cy="339.7" r="1.9" fill="#c0691b"/>
<circle cx="434.3" cy="344.3" r="1.9" fill="#c0691b"/>
<circle cx="450.6" cy="343.9" r="2.1" fill="#c0691b"/>
<circle cx="456.5" cy="341.0" r="1.9" fill="#c0691b"/>
<circle cx="469.6" cy="340.5" r="1.7" fill="#c0691b"/>
<circle cx="483.2" cy="342.7" r="1.7" fill="#c0691b"/>
<circle cx="493.1" cy="343.4" r="2.3" fill="#c0691b"/>
<circle cx="507.0" cy="339.6" r="2.3" fill="#c0691b"/>
<circle cx="518.6" cy="338.8" r="1.7" fill="#c0691b"/>
<circle cx="531.7" cy="340.6" r="2.3" fill="#c0691b"/>
<circle cx="415.9" cy="353.7" r="2.1" fill="#c0691b"/>
<circle cx="429.7" cy="354.0" r="2.3" fill="#c0691b"/>
<circle cx="439.3" cy="350.1" r="1.9" fill="#c0691b"/>
<circle cx="451.3" cy="350.5" r="2.3" fill="#c0691b"/>
<circle cx="464.3" cy="351.1" r="2.1" fill="#c0691b"/>
<circle cx="478.5" cy="349.6" r="2.1" fill="#c0691b"/>
<circle cx="490.6" cy="349.2" r="1.7" fill="#c0691b"/>
<circle cx="498.3" cy="352.1" r="2.1" fill="#c0691b"/>
<circle cx="514.1" cy="351.0" r="1.7" fill="#c0691b"/>
<circle cx="522.1" cy="350.9" r="1.9" fill="#c0691b"/>
<circle cx="414.3" cy="361.4" r="2.3" fill="#c0691b"/>
<circle cx="422.6" cy="359.8" r="2.3" fill="#c0691b"/>
<circle cx="433.4" cy="363.9" r="2.1" fill="#c0691b"/>
<circle cx="449.8" cy="362.2" r="2.3" fill="#c0691b"/>
<circle cx="457.3" cy="365.4" r="1.7" fill="#c0691b"/>
<circle cx="472.8" cy="361.5" r="1.9" fill="#c0691b"/>
<circle cx="480.4" cy="363.9" r="1.9" fill="#c0691b"/>
<circle cx="495.0" cy="364.2" r="1.7" fill="#c0691b"/>
<circle cx="503.8" cy="361.7" r="1.7" fill="#c0691b"/>
<circle cx="519.5" cy="361.3" r="2.3" fill="#c0691b"/>
<circle cx="531.5" cy="363.2" r="1.9" fill="#c0691b"/>
<circle cx="529.1" cy="350.6" r="0.9" fill="#c57a30"/>
<circle cx="494.0" cy="346.5" r="0.9" fill="#c57a30"/>
<circle cx="445.5" cy="349.1" r="0.7" fill="#c57a30"/>
<circle cx="423.7" cy="361.7" r="1.1" fill="#c57a30"/>
<circle cx="527.1" cy="355.8" r="0.9" fill="#c57a30"/>
<circle cx="515.9" cy="342.4" r="0.9" fill="#c57a30"/>
<circle cx="443.2" cy="360.5" r="1.1" fill="#c57a30"/>
<circle cx="454.1" cy="360.6" r="0.9" fill="#c57a30"/>
<circle cx="494.7" cy="356.9" r="0.9" fill="#c57a30"/>
<circle cx="454.3" cy="358.1" r="0.9" fill="#c57a30"/>
<circle cx="511.9" cy="344.9" r="1.1" fill="#c57a30"/>
<circle cx="497.4" cy="365.7" r="0.9" fill="#c57a30"/>
<circle cx="489.3" cy="354.4" r="0.7" fill="#c57a30"/>
<circle cx="467.9" cy="360.2" r="0.9" fill="#c57a30"/>
<circle cx="491.9" cy="350.9" r="1.1" fill="#c57a30"/>
<circle cx="489.0" cy="360.9" r="0.9" fill="#c57a30"/>
<circle cx="443.4" cy="347.4" r="0.9" fill="#c57a30"/>
<circle cx="452.7" cy="362.3" r="1.1" fill="#c57a30"/>
<circle cx="464.9" cy="347.9" r="0.9" fill="#c57a30"/>
<circle cx="473.2" cy="352.9" r="0.7" fill="#c57a30"/>
<circle cx="434.2" cy="347.9" r="0.9" fill="#c57a30"/>
<circle cx="444.5" cy="339.4" r="1.1" fill="#c57a30"/>
<circle cx="499.1" cy="342.2" r="1.1" fill="#c57a30"/>
<circle cx="473.0" cy="365.1" r="0.9" fill="#c57a30"/>
</g>
<g id="tank" filter="url(#blur05)">
<path d="M396,376 L485.5,386 L580,376 L580,426.8 L485.5,439.4 L396,426 Z" fill="url(#gGlass)"/>
<path d="M396,396.5 L485.5,406 L580,396.5 L580,426.8 L485.5,439.4 L396,426 Z" fill="url(#gWaterF)"/>
<path d="M396,396.5 L440,394 L540,394 L580,396.5 L485.5,406 Z" fill="#9ad6f9"/>
<rect x="539" y="406.5" width="27.5" height="19.5" fill="#2b82c6" opacity="0.85"/>
<path d="M392.6,371.6 L583,371.6 L583,376.6 L485.5,388.5 L392.6,376.6 Z" fill="#e3e5e9"/>
<path d="M394.5,372.6 L581,372.6 L485.5,384 Z" fill="#fafbfc"/>
<circle cx="446" cy="378" r="1.6" fill="#4aa9ea" opacity="0.85"/>
<circle cx="458" cy="381" r="1.3" fill="#4aa9ea" opacity="0.85"/>
<circle cx="470" cy="379" r="1.5" fill="#4aa9ea" opacity="0.85"/>
<circle cx="480" cy="374" r="1.4" fill="#4aa9ea" opacity="0.85"/>
<circle cx="494" cy="377" r="1.8" fill="#4aa9ea" opacity="0.85"/>
<circle cx="506" cy="384" r="1.6" fill="#4aa9ea" opacity="0.85"/>
<circle cx="512" cy="389" r="1.8" fill="#4aa9ea" opacity="0.85"/>
<circle cx="519" cy="373" r="1.4" fill="#4aa9ea" opacity="0.85"/>
<circle cx="501" cy="391" r="1.2" fill="#4aa9ea" opacity="0.85"/>
<circle cx="447" cy="392" r="1.0" fill="#4aa9ea" opacity="0.85"/>
</g>
<path d="M555.5,371 V412" stroke="#4badea" stroke-width="2.5" fill="none" opacity="0.9" filter="url(#blur05)"/>
<g stroke="#5eaee2" stroke-width="2.1" fill="none" filter="url(#blur05)">
<path d="M249.5,369 V493"/>
<path d="M493.5,438 V500"/>
<path d="M641.8,296 V435"/>
<path d="M740.6,297 V436"/>
</g>
<g id="inset" clip-path="url(#cpInset)">
<rect x="0" y="382" width="212" height="151" fill="url(#gInset)"/>
<g filter="url(#blur1)" fill="none" stroke-linecap="round">
<path d="M0,449.5 C25,449 50,455 78,465" stroke="#082a58" stroke-width="3" opacity="0.25"/>
<path d="M6,448 C28,448.5 52,453.5 78,462" stroke="#062a56" stroke-width="1.6" opacity="0.75"/><path d="M60,458.5 C66,460 72,461.5 78,463" stroke="#4ab4ee" stroke-width="1.3" opacity="0.8"/>
<path d="M126,470 C140,474 160,480 186,478" stroke="#8fd6f8" stroke-width="1.3" opacity="0.7"/>
<path d="M126,477 C145,486 170,499 212,496" stroke="#093768" stroke-width="6" opacity="0.5"/>
<path d="M127,474.5 C146,481 170,492 212,488" stroke="#7fd0f7" stroke-width="1.5" opacity="0.75"/>
<path d="M128,488 C150,500 180,507 212,508" stroke="#2a92d4" stroke-width="3.5" opacity="0.6"/>
<path d="M140,497.5 C160,507 190,509.5 212,505" stroke="#dcf2fd" stroke-width="1.7" opacity="0.85"/>
<path d="M131,483 C150,494 175,500 200,499" stroke="#b8e6fb" stroke-width="1.0" opacity="0.6"/>
</g>
<g filter="url(#blur05)">
<ellipse cx="196.4" cy="483.5" rx="14" ry="9.6" fill="#5ab4e6" opacity="0.85"/>
<ellipse cx="196.4" cy="483.5" rx="14" ry="9.6" fill="none" stroke="#e3f4fd" stroke-width="1.7" opacity="0.95"/>
<path d="M185,482 Q188,475.5 199,476" stroke="#ffffff" stroke-width="2.6" fill="none" opacity="0.9"/>
<ellipse cx="200" cy="486.5" rx="7.5" ry="4" fill="#1572b4" opacity="0.75"/>
<circle cx="4.3" cy="448" r="2.6" fill="#072a55"/><circle cx="4.3" cy="448" r="1.4" fill="#35b4f2"/>
<circle cx="4.6" cy="454.3" r="1.5" fill="#072a55"/><circle cx="4.6" cy="453.8" r="0.7" fill="#6cc8f5"/>
<circle cx="146" cy="485" r="1.3" fill="#0d4a84" stroke="#9fdcf9" stroke-width="0.5"/>
<circle cx="153" cy="486.5" r="1" fill="#0d4a84" stroke="#9fdcf9" stroke-width="0.5"/>
<circle cx="132" cy="498" r="1.4" fill="#0d4a84" stroke="#9fdcf9" stroke-width="0.5"/>
<circle cx="190" cy="498" r="1.5" fill="#0d4a84" stroke="#9fdcf9" stroke-width="0.5"/>
<circle cx="196" cy="497" r="1.1" fill="#0d4a84" stroke="#9fdcf9" stroke-width="0.5"/>
<circle cx="186" cy="492" r="0.9" fill="#0d4a84" stroke="#9fdcf9" stroke-width="0.5"/>
</g>
<g filter="url(#blur05)">
<path d="M79.5,520.5 L76,403 Q76,393.8 86,393.8 L98,393.8 Q113,395.5 123.8,407 L123,414 L126.8,445 L128,521 Z" fill="url(#gUnit)" stroke="#eef6fc" stroke-width="0.8"/>
<path d="M80.5,519 L77.2,403 Q77.2,395.2 86,395.2 L99.5,395.2 L99.5,519 Z" fill="#b4cadf" opacity="0.75"/>
<path d="M117.8,407.5 L123,413.5 L126.5,444.5 L127.6,519 L125.6,519 L124,446 Q119,428 117.8,407.5 Z" fill="#f7fbfe" opacity="0.95"/>
<rect x="81" y="402" width="4.6" height="67" fill="#a65a62"/>
<path d="M81,402 L85.6,403.6 L81,405.2 L85.6,406.8 L81,408.4 L85.6,410.0 L81,411.6 L85.6,413.2 L81,414.8 L85.6,416.4 L81,418.0 L85.6,419.6 L81,421.2 L85.6,422.8 L81,424.4 L85.6,426.0 L81,427.6 L85.6,429.2 L81,430.8 L85.6,432.4 L81,434.0 L85.6,435.6 L81,437.2 L85.6,438.8 L81,440.4 L85.6,442.0 L81,443.6 L85.6,445.2 L81,446.8 L85.6,448.4 L81,450.0 L85.6,451.6 L81,453.2 L85.6,454.8 L81,456.4 L85.6,458.0 L81,459.6 L85.6,461.2 L81,462.8 L85.6,464.4 L81,466.0 L85.6,467.6 L81,469.2" fill="none" stroke="#d9a4a8" stroke-width="0.7"/>
<path d="M97.2,506 V402 Q97.2,397.6 91.5,397.6 H83" fill="none" stroke="#f3f8fc" stroke-width="3.4"/>
<path d="M97.2,506 V402 Q97.2,397.6 91.5,397.6 H83" fill="none" stroke="#9ec3dd" stroke-width="1" stroke-dasharray="2.2 1.8"/>
<rect x="80.6" y="494" width="38.2" height="22" fill="#1b93d2"/>
<path d="M97.2,494 V506" stroke="#f3f8fc" stroke-width="3.4"/>
<ellipse cx="96.8" cy="509" rx="4" ry="5.3" fill="#0d5876"/>
<path d="M85.8,472 Q89.5,478.2 85.8,478.6 Q82.1,478.2 85.8,472 Z" fill="#1e8fd8"/>
<path d="M85.8,481.5 Q89.5,487.7 85.8,488.1 Q82.1,487.7 85.8,481.5 Z" fill="#1e8fd8"/>
<ellipse cx="109.6" cy="417" rx="2.8" ry="11.7" fill="#f7fbfe" stroke="#b8d0e2" stroke-width="0.6"/>
<ellipse cx="109.6" cy="443" rx="2.8" ry="12.7" fill="#f7fbfe" stroke="#b8d0e2" stroke-width="0.6"/>
<ellipse cx="106.6" cy="430" rx="2.7" ry="4.6" fill="#6b7178"/>
<ellipse cx="111" cy="430" rx="1.8" ry="3.4" fill="#8a9097"/>
<circle cx="83.5" cy="521.5" r="3.4" fill="#4a4647"/>
<circle cx="123.6" cy="525" r="3.4" fill="#4a4647"/>
</g>
<g fill="none" stroke="#f4962a" stroke-width="2.1" stroke-linecap="round" stroke-linejoin="round" filter="url(#blur05)">
<path d="M36.8,447.20 L37.4,447.10 L38.0,447.20 L38.6,447.50 L39.2,447.93 L39.8,448.44 L40.4,448.95 L41.0,449.36 L41.6,449.63 L42.2,449.70 L42.8,449.56 L43.4,449.24 L44.0,448.79 L44.6,448.27 L45.2,447.78 L45.8,447.38 L46.4,447.15 L47.0,447.11 L47.6,447.28 L48.2,447.63 L48.8,448.10 L49.4,448.62 L50.0,449.10 L50.6,449.47 L51.2,449.67 L51.8,449.67 L52.4,449.47 L53.0,449.10 L53.6,448.62 L54.2,448.10 L54.8,447.63 L55.4,447.28 L56.0,447.11 L56.6,447.15 L57.2,447.38 L57.8,447.78 L58.4,448.27 L59.0,448.79 L59.6,449.24 L60.2,449.56 L60.8,449.70 L61.4,449.63"/>
<path d="M60.2,446.09999999999997 L67.4,449.0 L60.6,451.09999999999997 Z" fill="#f4962a" stroke="none"/>
<path d="M36.8,455.60 L37.4,455.50 L38.0,455.60 L38.6,455.90 L39.2,456.33 L39.8,456.84 L40.4,457.35 L41.0,457.76 L41.6,458.03 L42.2,458.10 L42.8,457.96 L43.4,457.64 L44.0,457.19 L44.6,456.67 L45.2,456.18 L45.8,455.78 L46.4,455.55 L47.0,455.51 L47.6,455.68 L48.2,456.03 L48.8,456.50 L49.4,457.02 L50.0,457.50 L50.6,457.87 L51.2,458.07 L51.8,458.07 L52.4,457.87 L53.0,457.50 L53.6,457.02 L54.2,456.50 L54.8,456.03 L55.4,455.68 L56.0,455.51 L56.6,455.55 L57.2,455.78 L57.8,456.18 L58.4,456.67 L59.0,457.19 L59.6,457.64 L60.2,457.96 L60.8,458.10 L61.4,458.03"/>
<path d="M60.2,454.5 L67.4,457.40000000000003 L60.6,459.5 Z" fill="#f4962a" stroke="none"/>
<path d="M36.8,464.40 L37.4,464.30 L38.0,464.40 L38.6,464.70 L39.2,465.13 L39.8,465.64 L40.4,466.15 L41.0,466.56 L41.6,466.83 L42.2,466.90 L42.8,466.76 L43.4,466.44 L44.0,465.99 L44.6,465.47 L45.2,464.98 L45.8,464.58 L46.4,464.35 L47.0,464.31 L47.6,464.48 L48.2,464.83 L48.8,465.30 L49.4,465.82 L50.0,466.30 L50.6,466.67 L51.2,466.87 L51.8,466.87 L52.4,466.67 L53.0,466.30 L53.6,465.82 L54.2,465.30 L54.8,464.83 L55.4,464.48 L56.0,464.31 L56.6,464.35 L57.2,464.58 L57.8,464.98 L58.4,465.47 L59.0,465.99 L59.6,466.44 L60.2,466.76 L60.8,466.90 L61.4,466.83"/>
<path d="M60.2,463.3 L67.4,466.20000000000005 L60.6,468.3 Z" fill="#f4962a" stroke="none"/>
</g>
<g fill="none" stroke="#b4e2fa" stroke-width="1.5" stroke-linecap="round" stroke-linejoin="round" filter="url(#blur05)" opacity="0.95">
<path d="M128.3,418.12 L128.9,418.51 L129.5,418.98 L130.1,419.46 L130.7,419.93 L131.3,420.31 L131.9,420.58 L132.5,420.69 L133.1,420.65 L133.7,420.46 L134.3,420.13 L134.9,419.70 L135.5,419.22 L136.1,418.74 L136.7,418.30 L137.3,417.96 L137.9,417.76 L138.5,417.70 L139.1,417.81 L139.7,418.06 L140.3,418.44 L140.9,418.89 L141.5,419.38 L142.1,419.85 L142.7,420.25 L143.3,420.54 L143.9,420.69 L144.5,420.67 L145.1,420.50 L145.7,420.19 L146.3,419.78 L146.9,419.30 L147.5,418.82 L148.1,418.37 L148.7,418.01 L149.3,417.78 L149.9,417.70 L150.5,417.78 L151.1,418.01 L151.7,418.37 L152.3,418.82"/>
<path d="M151,417.0 L158,419.4 L151.4,421.2 Z" fill="#b4e2fa" stroke="none"/>
<path d="M128.3,426.32 L128.9,426.71 L129.5,427.18 L130.1,427.66 L130.7,428.13 L131.3,428.51 L131.9,428.78 L132.5,428.89 L133.1,428.85 L133.7,428.66 L134.3,428.33 L134.9,427.90 L135.5,427.42 L136.1,426.94 L136.7,426.50 L137.3,426.16 L137.9,425.96 L138.5,425.90 L139.1,426.01 L139.7,426.26 L140.3,426.64 L140.9,427.09 L141.5,427.58 L142.1,428.05 L142.7,428.45 L143.3,428.74 L143.9,428.89 L144.5,428.87 L145.1,428.70 L145.7,428.39 L146.3,427.98 L146.9,427.50 L147.5,427.02 L148.1,426.57 L148.7,426.21 L149.3,425.98 L149.9,425.90 L150.5,425.98 L151.1,426.21 L151.7,426.57 L152.3,427.02"/>
<path d="M151,425.2 L158,427.59999999999997 L151.4,429.4 Z" fill="#b4e2fa" stroke="none"/>
<path d="M128.3,434.72 L128.9,435.11 L129.5,435.58 L130.1,436.06 L130.7,436.53 L131.3,436.91 L131.9,437.18 L132.5,437.29 L133.1,437.25 L133.7,437.06 L134.3,436.73 L134.9,436.30 L135.5,435.82 L136.1,435.34 L136.7,434.90 L137.3,434.56 L137.9,434.36 L138.5,434.30 L139.1,434.41 L139.7,434.66 L140.3,435.04 L140.9,435.49 L141.5,435.98 L142.1,436.45 L142.7,436.85 L143.3,437.14 L143.9,437.29 L144.5,437.27 L145.1,437.10 L145.7,436.79 L146.3,436.38 L146.9,435.90 L147.5,435.42 L148.1,434.97 L148.7,434.61 L149.3,434.38 L149.9,434.30 L150.5,434.38 L151.1,434.61 L151.7,434.97 L152.3,435.42"/>
<path d="M151,433.6 L158,436.0 L151.4,437.8 Z" fill="#b4e2fa" stroke="none"/>
</g>
<g stroke="#ffffff" stroke-width="0.7" fill="#fff">
<path d="M68,507.2 H78"/><path d="M77,505.8 L79.6,507.2 L77,508.6 Z" stroke="none"/>
<path d="M76,514.6 H90"/><path d="M89,513.2 L91.6,514.6 L89,516 Z" stroke="none"/>
</g>
<g font-family="'Liberation Serif', 'Times New Roman', serif" font-weight="bold" font-size="6.1" fill="#e4f3fc" filter="url(#blur05)">
<text x="60.3" y="419.5" textLength="31.5" lengthAdjust="spacingAndGlyphs">Tấm làm mát</text>
<text x="0.3" y="441.8" textLength="72.4" lengthAdjust="spacingAndGlyphs">Không khí nóng từ môi trường</text>
<text x="128.6" y="445.2" textLength="81.8" lengthAdjust="spacingAndGlyphs">Không khí lạnh được thổi ra ngoài</text>
<text x="30.8" y="509.6" textLength="36" lengthAdjust="spacingAndGlyphs">Hộp chứa nước</text>
<text x="39.4" y="517.2" textLength="34.5" lengthAdjust="spacingAndGlyphs">Máy bơm nước</text>
</g>
</g>

<g font-family="'Liberation Sans', Arial, sans-serif" font-size="16" fill="#1c1c1c" stroke="#1c1c1c" stroke-width="0.3" filter="url(#blur05)">
<text x="331" y="14.4" font-size="16.3" textLength="97.5" lengthAdjust="spacingAndGlyphs">Tấm màn ướt</text>
<text x="334.3" y="33.4" textLength="88.5" lengthAdjust="spacingAndGlyphs">Cooling pad</text>
<text x="212.8" y="515" font-size="15" textLength="92.8" lengthAdjust="spacing">Rotor đảo gió</text>
<text x="436.8" y="513.8" font-size="15" textLength="112" lengthAdjust="spacing">Hộc chứa nước</text>
<text x="612.3" y="449.3" font-size="15" textLength="58.5" lengthAdjust="spacing">Màn lọc</text>
<g fill="#c6262e" stroke="#c6262e" stroke-width="0.35" font-size="15">
<text x="685" y="458.8" textLength="114.5" lengthAdjust="spacing">Không khí nóng</text>
<text x="715.5" y="475.5" textLength="50.5" lengthAdjust="spacing">Bụi bẩn</text>
</g>
</g>

</svg>
</body></html>
